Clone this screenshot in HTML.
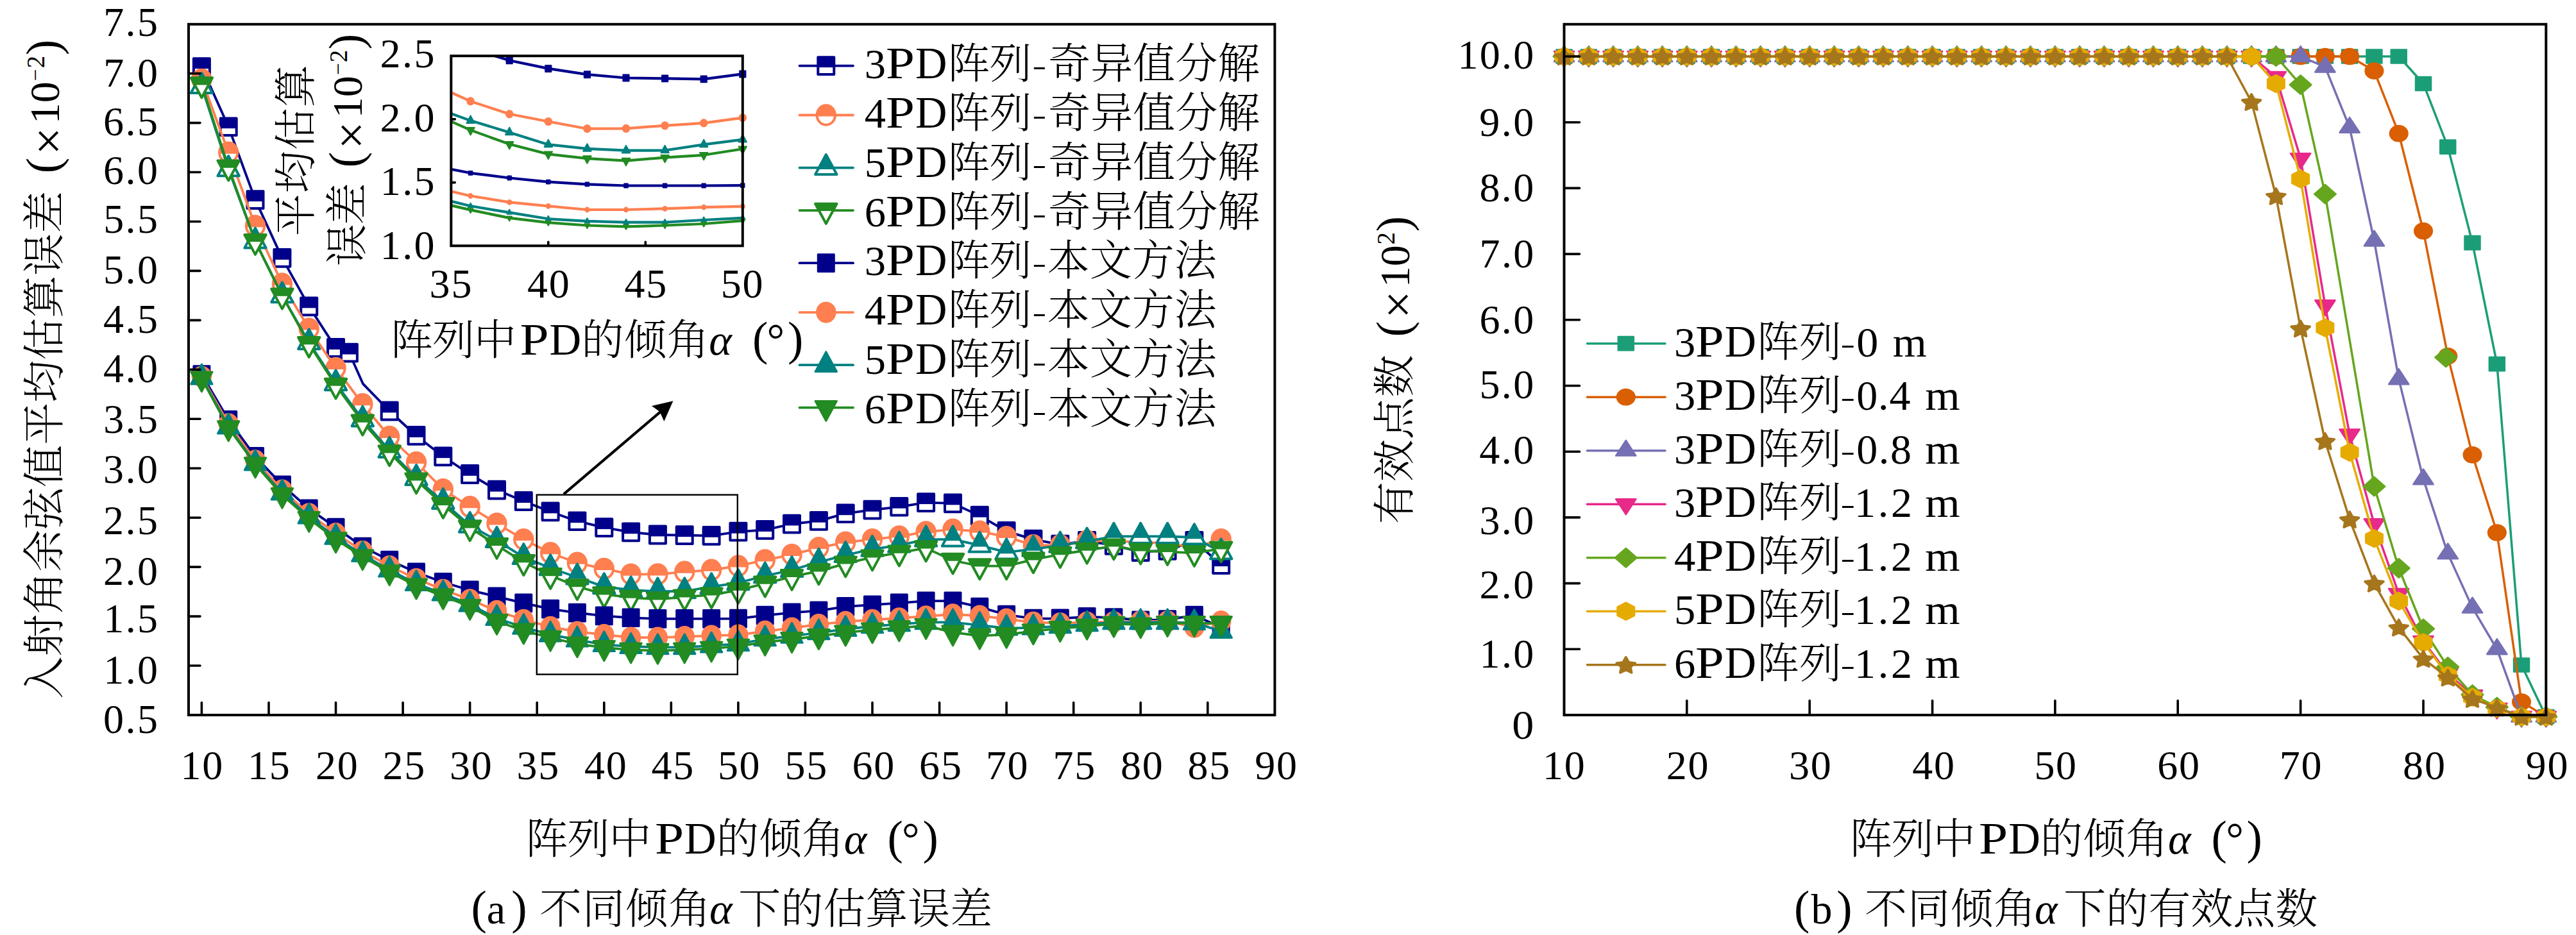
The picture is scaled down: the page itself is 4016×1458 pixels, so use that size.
<!DOCTYPE html>
<html lang="zh"><head><meta charset="utf-8"><title>figure</title>
<style>html,body{margin:0;padding:0;background:#fff}svg{display:block}text{font-family:"Liberation Serif", "Noto Serif CJK SC", serif;fill:#000;font-kerning:none;white-space:pre;font-weight:300}.it{font-style:italic}</style></head><body>
<svg width="4016" height="1458" viewBox="0 0 4016 1458">
<rect width="4016" height="1458" fill="#fff"/>
<g id="left">
<polyline points="314.4,104.6 356.2,197.8 398.0,311.6 439.9,402.4 481.7,477.9 523.5,542.5 544.4,550.2 566.0,598.7 607.2,641.0 649.0,679.5 690.8,711.8 732.6,739.5 774.5,764.1 816.3,781.5 858.1,798.0 899.9,812.7 941.8,822.6 983.6,829.8 1025.4,834.0 1067.2,834.6 1109.1,835.4 1150.9,829.2 1192.7,826.4 1234.5,817.0 1276.4,812.3 1318.2,800.7 1360.0,795.2 1401.8,790.3 1443.6,783.7 1485.5,784.9 1527.3,804.1 1569.1,828.4 1610.9,841.1 1652.8,849.1 1694.6,843.5 1736.4,850.3 1778.2,860.6 1820.1,858.4 1861.9,843.5 1903.7,880.6" fill="none" stroke="#00008B" stroke-width="3.8" stroke-linejoin="round" stroke-linecap="round"/>
<polygon points="301.9,91.3 326.9,91.3 326.9,118.0 301.9,118.0" fill="#fff" stroke="#00008B" stroke-width="4.0" stroke-linejoin="round"/><polygon points="301.9,91.3 326.9,91.3 326.9,107.1 301.9,107.1" fill="#00008B" /><polygon points="343.7,184.4 368.7,184.4 368.7,211.1 343.7,211.1" fill="#fff" stroke="#00008B" stroke-width="4.0" stroke-linejoin="round"/><polygon points="343.7,184.4 368.7,184.4 368.7,200.2 343.7,200.2" fill="#00008B" /><polygon points="385.5,298.3 410.5,298.3 410.5,325.0 385.5,325.0" fill="#fff" stroke="#00008B" stroke-width="4.0" stroke-linejoin="round"/><polygon points="385.5,298.3 410.5,298.3 410.5,314.1 385.5,314.1" fill="#00008B" /><polygon points="427.4,389.1 452.4,389.1 452.4,415.8 427.4,415.8" fill="#fff" stroke="#00008B" stroke-width="4.0" stroke-linejoin="round"/><polygon points="427.4,389.1 452.4,389.1 452.4,404.9 427.4,404.9" fill="#00008B" /><polygon points="469.2,464.5 494.2,464.5 494.2,491.2 469.2,491.2" fill="#fff" stroke="#00008B" stroke-width="4.0" stroke-linejoin="round"/><polygon points="469.2,464.5 494.2,464.5 494.2,480.3 469.2,480.3" fill="#00008B" /><polygon points="511.0,529.1 536.0,529.1 536.0,555.9 511.0,555.9" fill="#fff" stroke="#00008B" stroke-width="4.0" stroke-linejoin="round"/><polygon points="511.0,529.1 536.0,529.1 536.0,545.0 511.0,545.0" fill="#00008B" /><polygon points="531.9,536.8 556.9,536.8 556.9,563.6 531.9,563.6" fill="#fff" stroke="#00008B" stroke-width="4.0" stroke-linejoin="round"/><polygon points="531.9,536.8 556.9,536.8 556.9,552.6 531.9,552.6" fill="#00008B" /><polygon points="594.7,627.6 619.7,627.6 619.7,654.4 594.7,654.4" fill="#fff" stroke="#00008B" stroke-width="4.0" stroke-linejoin="round"/><polygon points="594.7,627.6 619.7,627.6 619.7,643.4 594.7,643.4" fill="#00008B" /><polygon points="636.5,666.1 661.5,666.1 661.5,692.8 636.5,692.8" fill="#fff" stroke="#00008B" stroke-width="4.0" stroke-linejoin="round"/><polygon points="636.5,666.1 661.5,666.1 661.5,681.9 636.5,681.9" fill="#00008B" /><polygon points="678.3,698.4 703.3,698.4 703.3,725.2 678.3,725.2" fill="#fff" stroke="#00008B" stroke-width="4.0" stroke-linejoin="round"/><polygon points="678.3,698.4 703.3,698.4 703.3,714.2 678.3,714.2" fill="#00008B" /><polygon points="720.1,726.1 745.1,726.1 745.1,752.9 720.1,752.9" fill="#fff" stroke="#00008B" stroke-width="4.0" stroke-linejoin="round"/><polygon points="720.1,726.1 745.1,726.1 745.1,741.9 720.1,741.9" fill="#00008B" /><polygon points="762.0,750.7 787.0,750.7 787.0,777.5 762.0,777.5" fill="#fff" stroke="#00008B" stroke-width="4.0" stroke-linejoin="round"/><polygon points="762.0,750.7 787.0,750.7 787.0,766.6 762.0,766.6" fill="#00008B" /><polygon points="803.8,768.1 828.8,768.1 828.8,794.9 803.8,794.9" fill="#fff" stroke="#00008B" stroke-width="4.0" stroke-linejoin="round"/><polygon points="803.8,768.1 828.8,768.1 828.8,784.0 803.8,784.0" fill="#00008B" /><polygon points="845.6,784.6 870.6,784.6 870.6,811.3 845.6,811.3" fill="#fff" stroke="#00008B" stroke-width="4.0" stroke-linejoin="round"/><polygon points="845.6,784.6 870.6,784.6 870.6,800.4 845.6,800.4" fill="#00008B" /><polygon points="887.4,799.4 912.4,799.4 912.4,826.1 887.4,826.1" fill="#fff" stroke="#00008B" stroke-width="4.0" stroke-linejoin="round"/><polygon points="887.4,799.4 912.4,799.4 912.4,815.2 887.4,815.2" fill="#00008B" /><polygon points="929.3,809.2 954.3,809.2 954.3,836.0 929.3,836.0" fill="#fff" stroke="#00008B" stroke-width="4.0" stroke-linejoin="round"/><polygon points="929.3,809.2 954.3,809.2 954.3,825.1 929.3,825.1" fill="#00008B" /><polygon points="971.1,816.4 996.1,816.4 996.1,843.2 971.1,843.2" fill="#fff" stroke="#00008B" stroke-width="4.0" stroke-linejoin="round"/><polygon points="971.1,816.4 996.1,816.4 996.1,832.3 971.1,832.3" fill="#00008B" /><polygon points="1012.9,820.6 1037.9,820.6 1037.9,847.4 1012.9,847.4" fill="#fff" stroke="#00008B" stroke-width="4.0" stroke-linejoin="round"/><polygon points="1012.9,820.6 1037.9,820.6 1037.9,836.4 1012.9,836.4" fill="#00008B" /><polygon points="1054.7,821.2 1079.7,821.2 1079.7,848.0 1054.7,848.0" fill="#fff" stroke="#00008B" stroke-width="4.0" stroke-linejoin="round"/><polygon points="1054.7,821.2 1079.7,821.2 1079.7,837.1 1054.7,837.1" fill="#00008B" /><polygon points="1096.6,822.0 1121.6,822.0 1121.6,848.7 1096.6,848.7" fill="#fff" stroke="#00008B" stroke-width="4.0" stroke-linejoin="round"/><polygon points="1096.6,822.0 1121.6,822.0 1121.6,837.8 1096.6,837.8" fill="#00008B" /><polygon points="1138.4,815.8 1163.4,815.8 1163.4,842.6 1138.4,842.6" fill="#fff" stroke="#00008B" stroke-width="4.0" stroke-linejoin="round"/><polygon points="1138.4,815.8 1163.4,815.8 1163.4,831.7 1138.4,831.7" fill="#00008B" /><polygon points="1180.2,813.1 1205.2,813.1 1205.2,839.8 1180.2,839.8" fill="#fff" stroke="#00008B" stroke-width="4.0" stroke-linejoin="round"/><polygon points="1180.2,813.1 1205.2,813.1 1205.2,828.9 1180.2,828.9" fill="#00008B" /><polygon points="1222.0,803.7 1247.0,803.7 1247.0,830.4 1222.0,830.4" fill="#fff" stroke="#00008B" stroke-width="4.0" stroke-linejoin="round"/><polygon points="1222.0,803.7 1247.0,803.7 1247.0,819.5 1222.0,819.5" fill="#00008B" /><polygon points="1263.9,798.9 1288.9,798.9 1288.9,825.7 1263.9,825.7" fill="#fff" stroke="#00008B" stroke-width="4.0" stroke-linejoin="round"/><polygon points="1263.9,798.9 1288.9,798.9 1288.9,814.7 1263.9,814.7" fill="#00008B" /><polygon points="1305.7,787.4 1330.7,787.4 1330.7,814.1 1305.7,814.1" fill="#fff" stroke="#00008B" stroke-width="4.0" stroke-linejoin="round"/><polygon points="1305.7,787.4 1330.7,787.4 1330.7,803.2 1305.7,803.2" fill="#00008B" /><polygon points="1347.5,781.8 1372.5,781.8 1372.5,808.6 1347.5,808.6" fill="#fff" stroke="#00008B" stroke-width="4.0" stroke-linejoin="round"/><polygon points="1347.5,781.8 1372.5,781.8 1372.5,797.7 1347.5,797.7" fill="#00008B" /><polygon points="1389.3,776.9 1414.3,776.9 1414.3,803.6 1389.3,803.6" fill="#fff" stroke="#00008B" stroke-width="4.0" stroke-linejoin="round"/><polygon points="1389.3,776.9 1414.3,776.9 1414.3,792.7 1389.3,792.7" fill="#00008B" /><polygon points="1431.1,770.3 1456.1,770.3 1456.1,797.0 1431.1,797.0" fill="#fff" stroke="#00008B" stroke-width="4.0" stroke-linejoin="round"/><polygon points="1431.1,770.3 1456.1,770.3 1456.1,786.1 1431.1,786.1" fill="#00008B" /><polygon points="1473.0,771.5 1498.0,771.5 1498.0,798.3 1473.0,798.3" fill="#fff" stroke="#00008B" stroke-width="4.0" stroke-linejoin="round"/><polygon points="1473.0,771.5 1498.0,771.5 1498.0,787.3 1473.0,787.3" fill="#00008B" /><polygon points="1514.8,790.7 1539.8,790.7 1539.8,817.5 1514.8,817.5" fill="#fff" stroke="#00008B" stroke-width="4.0" stroke-linejoin="round"/><polygon points="1514.8,790.7 1539.8,790.7 1539.8,806.6 1514.8,806.6" fill="#00008B" /><polygon points="1556.6,815.1 1581.6,815.1 1581.6,841.8 1556.6,841.8" fill="#fff" stroke="#00008B" stroke-width="4.0" stroke-linejoin="round"/><polygon points="1556.6,815.1 1581.6,815.1 1581.6,830.9 1556.6,830.9" fill="#00008B" /><polygon points="1598.4,827.7 1623.4,827.7 1623.4,854.4 1598.4,854.4" fill="#fff" stroke="#00008B" stroke-width="4.0" stroke-linejoin="round"/><polygon points="1598.4,827.7 1623.4,827.7 1623.4,843.5 1598.4,843.5" fill="#00008B" /><polygon points="1640.3,835.7 1665.3,835.7 1665.3,862.4 1640.3,862.4" fill="#fff" stroke="#00008B" stroke-width="4.0" stroke-linejoin="round"/><polygon points="1640.3,835.7 1665.3,835.7 1665.3,851.5 1640.3,851.5" fill="#00008B" /><polygon points="1682.1,830.1 1707.1,830.1 1707.1,856.9 1682.1,856.9" fill="#fff" stroke="#00008B" stroke-width="4.0" stroke-linejoin="round"/><polygon points="1682.1,830.1 1707.1,830.1 1707.1,846.0 1682.1,846.0" fill="#00008B" /><polygon points="1723.9,836.9 1748.9,836.9 1748.9,863.7 1723.9,863.7" fill="#fff" stroke="#00008B" stroke-width="4.0" stroke-linejoin="round"/><polygon points="1723.9,836.9 1748.9,836.9 1748.9,852.8 1723.9,852.8" fill="#00008B" /><polygon points="1765.7,847.2 1790.7,847.2 1790.7,874.0 1765.7,874.0" fill="#fff" stroke="#00008B" stroke-width="4.0" stroke-linejoin="round"/><polygon points="1765.7,847.2 1790.7,847.2 1790.7,863.1 1765.7,863.1" fill="#00008B" /><polygon points="1807.6,845.1 1832.6,845.1 1832.6,871.8 1807.6,871.8" fill="#fff" stroke="#00008B" stroke-width="4.0" stroke-linejoin="round"/><polygon points="1807.6,845.1 1832.6,845.1 1832.6,860.9 1807.6,860.9" fill="#00008B" /><polygon points="1849.4,830.1 1874.4,830.1 1874.4,856.9 1849.4,856.9" fill="#fff" stroke="#00008B" stroke-width="4.0" stroke-linejoin="round"/><polygon points="1849.4,830.1 1874.4,830.1 1874.4,846.0 1849.4,846.0" fill="#00008B" /><polygon points="1891.2,867.2 1916.2,867.2 1916.2,894.0 1891.2,894.0" fill="#fff" stroke="#00008B" stroke-width="4.0" stroke-linejoin="round"/><polygon points="1891.2,867.2 1916.2,867.2 1916.2,883.1 1891.2,883.1" fill="#00008B" />
<polyline points="314.4,123.9 356.2,237.8 398.0,352.3 439.9,442.5 481.7,512.6 523.5,574.0 565.3,630.2 607.2,681.0 649.0,721.0 690.8,763.2 732.6,790.3 774.5,816.4 816.3,841.1 858.1,862.3 899.9,877.8 941.8,886.9 983.6,895.7 1025.4,895.4 1067.2,891.8 1109.1,888.8 1150.9,882.5 1192.7,873.4 1234.5,864.9 1276.4,854.1 1318.2,845.7 1360.0,841.1 1401.8,836.4 1443.6,829.4 1485.5,825.7 1527.3,828.7 1569.1,837.1 1610.9,850.3 1652.8,850.3 1694.6,843.5 1736.4,843.5 1778.2,845.7 1820.1,847.2 1861.9,854.1 1903.7,841.1" fill="none" stroke="#FF7F50" stroke-width="3.8" stroke-linejoin="round" stroke-linecap="round"/>
<ellipse cx="314.4" cy="123.9" rx="14.2" ry="15.2" fill="#fff" stroke="#FF7F50" stroke-width="4.0"/><path d="M300.3 125.9A14.2 15.2 0 1 1 328.5 125.9Z" fill="#FF7F50"/><ellipse cx="356.2" cy="237.8" rx="14.2" ry="15.2" fill="#fff" stroke="#FF7F50" stroke-width="4.0"/><path d="M342.1 239.8A14.2 15.2 0 1 1 370.4 239.8Z" fill="#FF7F50"/><ellipse cx="398.0" cy="352.3" rx="14.2" ry="15.2" fill="#fff" stroke="#FF7F50" stroke-width="4.0"/><path d="M383.9 354.3A14.2 15.2 0 1 1 412.2 354.3Z" fill="#FF7F50"/><ellipse cx="439.9" cy="442.5" rx="14.2" ry="15.2" fill="#fff" stroke="#FF7F50" stroke-width="4.0"/><path d="M425.7 444.5A14.2 15.2 0 1 1 454.0 444.5Z" fill="#FF7F50"/><ellipse cx="481.7" cy="512.6" rx="14.2" ry="15.2" fill="#fff" stroke="#FF7F50" stroke-width="4.0"/><path d="M467.6 514.6A14.2 15.2 0 1 1 495.8 514.6Z" fill="#FF7F50"/><ellipse cx="523.5" cy="574.0" rx="14.2" ry="15.2" fill="#fff" stroke="#FF7F50" stroke-width="4.0"/><path d="M509.4 576.0A14.2 15.2 0 1 1 537.6 576.0Z" fill="#FF7F50"/><ellipse cx="565.3" cy="630.2" rx="14.2" ry="15.2" fill="#fff" stroke="#FF7F50" stroke-width="4.0"/><path d="M551.2 632.2A14.2 15.2 0 1 1 579.5 632.2Z" fill="#FF7F50"/><ellipse cx="607.2" cy="681.0" rx="14.2" ry="15.2" fill="#fff" stroke="#FF7F50" stroke-width="4.0"/><path d="M593.0 683.0A14.2 15.2 0 1 1 621.3 683.0Z" fill="#FF7F50"/><ellipse cx="649.0" cy="721.0" rx="14.2" ry="15.2" fill="#fff" stroke="#FF7F50" stroke-width="4.0"/><path d="M634.9 723.0A14.2 15.2 0 1 1 663.1 723.0Z" fill="#FF7F50"/><ellipse cx="690.8" cy="763.2" rx="14.2" ry="15.2" fill="#fff" stroke="#FF7F50" stroke-width="4.0"/><path d="M676.7 765.2A14.2 15.2 0 1 1 704.9 765.2Z" fill="#FF7F50"/><ellipse cx="732.6" cy="790.3" rx="14.2" ry="15.2" fill="#fff" stroke="#FF7F50" stroke-width="4.0"/><path d="M718.5 792.3A14.2 15.2 0 1 1 746.8 792.3Z" fill="#FF7F50"/><ellipse cx="774.5" cy="816.4" rx="14.2" ry="15.2" fill="#fff" stroke="#FF7F50" stroke-width="4.0"/><path d="M760.3 818.4A14.2 15.2 0 1 1 788.6 818.4Z" fill="#FF7F50"/><ellipse cx="816.3" cy="841.1" rx="14.2" ry="15.2" fill="#fff" stroke="#FF7F50" stroke-width="4.0"/><path d="M802.2 843.1A14.2 15.2 0 1 1 830.4 843.1Z" fill="#FF7F50"/><ellipse cx="858.1" cy="862.3" rx="14.2" ry="15.2" fill="#fff" stroke="#FF7F50" stroke-width="4.0"/><path d="M844.0 864.3A14.2 15.2 0 1 1 872.2 864.3Z" fill="#FF7F50"/><ellipse cx="899.9" cy="877.8" rx="14.2" ry="15.2" fill="#fff" stroke="#FF7F50" stroke-width="4.0"/><path d="M885.8 879.8A14.2 15.2 0 1 1 914.1 879.8Z" fill="#FF7F50"/><ellipse cx="941.8" cy="886.9" rx="14.2" ry="15.2" fill="#fff" stroke="#FF7F50" stroke-width="4.0"/><path d="M927.6 888.9A14.2 15.2 0 1 1 955.9 888.9Z" fill="#FF7F50"/><ellipse cx="983.6" cy="895.7" rx="14.2" ry="15.2" fill="#fff" stroke="#FF7F50" stroke-width="4.0"/><path d="M969.5 897.7A14.2 15.2 0 1 1 997.7 897.7Z" fill="#FF7F50"/><ellipse cx="1025.4" cy="895.4" rx="14.2" ry="15.2" fill="#fff" stroke="#FF7F50" stroke-width="4.0"/><path d="M1011.3 897.4A14.2 15.2 0 1 1 1039.5 897.4Z" fill="#FF7F50"/><ellipse cx="1067.2" cy="891.8" rx="14.2" ry="15.2" fill="#fff" stroke="#FF7F50" stroke-width="4.0"/><path d="M1053.1 893.8A14.2 15.2 0 1 1 1081.4 893.8Z" fill="#FF7F50"/><ellipse cx="1109.1" cy="888.8" rx="14.2" ry="15.2" fill="#fff" stroke="#FF7F50" stroke-width="4.0"/><path d="M1094.9 890.8A14.2 15.2 0 1 1 1123.2 890.8Z" fill="#FF7F50"/><ellipse cx="1150.9" cy="882.5" rx="14.2" ry="15.2" fill="#fff" stroke="#FF7F50" stroke-width="4.0"/><path d="M1136.8 884.5A14.2 15.2 0 1 1 1165.0 884.5Z" fill="#FF7F50"/><ellipse cx="1192.7" cy="873.4" rx="14.2" ry="15.2" fill="#fff" stroke="#FF7F50" stroke-width="4.0"/><path d="M1178.6 875.4A14.2 15.2 0 1 1 1206.8 875.4Z" fill="#FF7F50"/><ellipse cx="1234.5" cy="864.9" rx="14.2" ry="15.2" fill="#fff" stroke="#FF7F50" stroke-width="4.0"/><path d="M1220.4 866.9A14.2 15.2 0 1 1 1248.7 866.9Z" fill="#FF7F50"/><ellipse cx="1276.4" cy="854.1" rx="14.2" ry="15.2" fill="#fff" stroke="#FF7F50" stroke-width="4.0"/><path d="M1262.2 856.1A14.2 15.2 0 1 1 1290.5 856.1Z" fill="#FF7F50"/><ellipse cx="1318.2" cy="845.7" rx="14.2" ry="15.2" fill="#fff" stroke="#FF7F50" stroke-width="4.0"/><path d="M1304.0 847.7A14.2 15.2 0 1 1 1332.3 847.7Z" fill="#FF7F50"/><ellipse cx="1360.0" cy="841.1" rx="14.2" ry="15.2" fill="#fff" stroke="#FF7F50" stroke-width="4.0"/><path d="M1345.9 843.1A14.2 15.2 0 1 1 1374.1 843.1Z" fill="#FF7F50"/><ellipse cx="1401.8" cy="836.4" rx="14.2" ry="15.2" fill="#fff" stroke="#FF7F50" stroke-width="4.0"/><path d="M1387.7 838.4A14.2 15.2 0 1 1 1416.0 838.4Z" fill="#FF7F50"/><ellipse cx="1443.6" cy="829.4" rx="14.2" ry="15.2" fill="#fff" stroke="#FF7F50" stroke-width="4.0"/><path d="M1429.5 831.4A14.2 15.2 0 1 1 1457.8 831.4Z" fill="#FF7F50"/><ellipse cx="1485.5" cy="825.7" rx="14.2" ry="15.2" fill="#fff" stroke="#FF7F50" stroke-width="4.0"/><path d="M1471.3 827.7A14.2 15.2 0 1 1 1499.6 827.7Z" fill="#FF7F50"/><ellipse cx="1527.3" cy="828.7" rx="14.2" ry="15.2" fill="#fff" stroke="#FF7F50" stroke-width="4.0"/><path d="M1513.2 830.7A14.2 15.2 0 1 1 1541.4 830.7Z" fill="#FF7F50"/><ellipse cx="1569.1" cy="837.1" rx="14.2" ry="15.2" fill="#fff" stroke="#FF7F50" stroke-width="4.0"/><path d="M1555.0 839.1A14.2 15.2 0 1 1 1583.2 839.1Z" fill="#FF7F50"/><ellipse cx="1610.9" cy="850.3" rx="14.2" ry="15.2" fill="#fff" stroke="#FF7F50" stroke-width="4.0"/><path d="M1596.8 852.3A14.2 15.2 0 1 1 1625.1 852.3Z" fill="#FF7F50"/><ellipse cx="1652.8" cy="850.3" rx="14.2" ry="15.2" fill="#fff" stroke="#FF7F50" stroke-width="4.0"/><path d="M1638.6 852.3A14.2 15.2 0 1 1 1666.9 852.3Z" fill="#FF7F50"/><ellipse cx="1694.6" cy="843.5" rx="14.2" ry="15.2" fill="#fff" stroke="#FF7F50" stroke-width="4.0"/><path d="M1680.5 845.5A14.2 15.2 0 1 1 1708.7 845.5Z" fill="#FF7F50"/><ellipse cx="1736.4" cy="843.5" rx="14.2" ry="15.2" fill="#fff" stroke="#FF7F50" stroke-width="4.0"/><path d="M1722.3 845.5A14.2 15.2 0 1 1 1750.5 845.5Z" fill="#FF7F50"/><ellipse cx="1778.2" cy="845.7" rx="14.2" ry="15.2" fill="#fff" stroke="#FF7F50" stroke-width="4.0"/><path d="M1764.1 847.7A14.2 15.2 0 1 1 1792.4 847.7Z" fill="#FF7F50"/><ellipse cx="1820.1" cy="847.2" rx="14.2" ry="15.2" fill="#fff" stroke="#FF7F50" stroke-width="4.0"/><path d="M1805.9 849.2A14.2 15.2 0 1 1 1834.2 849.2Z" fill="#FF7F50"/><ellipse cx="1861.9" cy="854.1" rx="14.2" ry="15.2" fill="#fff" stroke="#FF7F50" stroke-width="4.0"/><path d="M1847.8 856.1A14.2 15.2 0 1 1 1876.0 856.1Z" fill="#FF7F50"/><ellipse cx="1903.7" cy="841.1" rx="14.2" ry="15.2" fill="#fff" stroke="#FF7F50" stroke-width="4.0"/><path d="M1889.6 843.1A14.2 15.2 0 1 1 1917.8 843.1Z" fill="#FF7F50"/>
<polyline points="314.4,134.7 356.2,263.9 398.0,376.3 439.9,460.9 481.7,534.0 523.5,597.9 565.3,654.2 607.2,702.5 649.0,745.6 690.8,782.6 732.6,819.5 774.5,842.6 816.3,868.8 858.1,885.8 899.9,900.2 941.8,914.9 983.6,920.0 1025.4,922.2 1067.2,922.0 1109.1,914.9 1150.9,908.9 1192.7,898.0 1234.5,888.8 1276.4,876.5 1318.2,865.7 1360.0,856.4 1401.8,850.3 1443.6,841.1 1485.5,841.1 1527.3,850.3 1569.1,861.1 1610.9,856.4 1652.8,850.3 1694.6,844.1 1736.4,836.4 1778.2,836.4 1820.1,836.4 1861.9,838.0 1903.7,861.1" fill="none" stroke="#008080" stroke-width="3.8" stroke-linejoin="round" stroke-linecap="round"/>
<polygon points="314.4,114.0 297.7,145.0 331.1,145.0" fill="#fff" stroke="#008080" stroke-width="4.0" stroke-linejoin="round"/><polygon points="314.4,114.0 302.0,136.9 326.8,136.9" fill="#008080" /><polygon points="356.2,243.3 339.5,274.2 372.9,274.2" fill="#fff" stroke="#008080" stroke-width="4.0" stroke-linejoin="round"/><polygon points="356.2,243.3 343.9,266.2 368.6,266.2" fill="#008080" /><polygon points="398.0,355.6 381.3,386.6 414.7,386.6" fill="#fff" stroke="#008080" stroke-width="4.0" stroke-linejoin="round"/><polygon points="398.0,355.6 385.7,378.5 410.4,378.5" fill="#008080" /><polygon points="439.9,440.3 423.2,471.2 456.6,471.2" fill="#fff" stroke="#008080" stroke-width="4.0" stroke-linejoin="round"/><polygon points="439.9,440.3 427.5,463.2 452.2,463.2" fill="#008080" /><polygon points="481.7,513.4 465.0,544.3 498.4,544.3" fill="#fff" stroke="#008080" stroke-width="4.0" stroke-linejoin="round"/><polygon points="481.7,513.4 469.3,536.3 494.1,536.3" fill="#008080" /><polygon points="523.5,577.3 506.8,608.2 540.2,608.2" fill="#fff" stroke="#008080" stroke-width="4.0" stroke-linejoin="round"/><polygon points="523.5,577.3 511.2,600.2 535.9,600.2" fill="#008080" /><polygon points="565.3,633.6 548.6,664.5 582.0,664.5" fill="#fff" stroke="#008080" stroke-width="4.0" stroke-linejoin="round"/><polygon points="565.3,633.6 553.0,656.5 577.7,656.5" fill="#008080" /><polygon points="607.2,681.9 590.5,712.9 623.9,712.9" fill="#fff" stroke="#008080" stroke-width="4.0" stroke-linejoin="round"/><polygon points="607.2,681.9 594.8,704.8 619.5,704.8" fill="#008080" /><polygon points="649.0,725.0 632.3,756.0 665.7,756.0" fill="#fff" stroke="#008080" stroke-width="4.0" stroke-linejoin="round"/><polygon points="649.0,725.0 636.6,747.9 661.3,747.9" fill="#008080" /><polygon points="690.8,761.9 674.1,792.9 707.5,792.9" fill="#fff" stroke="#008080" stroke-width="4.0" stroke-linejoin="round"/><polygon points="690.8,761.9 678.5,784.8 703.2,784.8" fill="#008080" /><polygon points="732.6,798.9 715.9,829.8 749.3,829.8" fill="#fff" stroke="#008080" stroke-width="4.0" stroke-linejoin="round"/><polygon points="732.6,798.9 720.3,821.8 745.0,821.8" fill="#008080" /><polygon points="774.5,822.0 757.8,852.9 791.2,852.9" fill="#fff" stroke="#008080" stroke-width="4.0" stroke-linejoin="round"/><polygon points="774.5,822.0 762.1,844.9 786.8,844.9" fill="#008080" /><polygon points="816.3,848.1 799.6,879.1 833.0,879.1" fill="#fff" stroke="#008080" stroke-width="4.0" stroke-linejoin="round"/><polygon points="816.3,848.1 803.9,871.0 828.6,871.0" fill="#008080" /><polygon points="858.1,865.2 841.4,896.2 874.8,896.2" fill="#fff" stroke="#008080" stroke-width="4.0" stroke-linejoin="round"/><polygon points="858.1,865.2 845.8,888.1 870.5,888.1" fill="#008080" /><polygon points="899.9,879.5 883.2,910.5 916.6,910.5" fill="#fff" stroke="#008080" stroke-width="4.0" stroke-linejoin="round"/><polygon points="899.9,879.5 887.6,902.4 912.3,902.4" fill="#008080" /><polygon points="941.8,894.3 925.1,925.2 958.5,925.2" fill="#fff" stroke="#008080" stroke-width="4.0" stroke-linejoin="round"/><polygon points="941.8,894.3 929.4,917.2 954.1,917.2" fill="#008080" /><polygon points="983.6,899.4 966.9,930.3 1000.3,930.3" fill="#fff" stroke="#008080" stroke-width="4.0" stroke-linejoin="round"/><polygon points="983.6,899.4 971.2,922.3 995.9,922.3" fill="#008080" /><polygon points="1025.4,901.5 1008.7,932.5 1042.1,932.5" fill="#fff" stroke="#008080" stroke-width="4.0" stroke-linejoin="round"/><polygon points="1025.4,901.5 1013.0,924.4 1037.8,924.4" fill="#008080" /><polygon points="1067.2,901.4 1050.5,932.3 1083.9,932.3" fill="#fff" stroke="#008080" stroke-width="4.0" stroke-linejoin="round"/><polygon points="1067.2,901.4 1054.9,924.3 1079.6,924.3" fill="#008080" /><polygon points="1109.1,894.3 1092.4,925.2 1125.8,925.2" fill="#fff" stroke="#008080" stroke-width="4.0" stroke-linejoin="round"/><polygon points="1109.1,894.3 1096.7,917.2 1121.4,917.2" fill="#008080" /><polygon points="1150.9,888.3 1134.2,919.2 1167.6,919.2" fill="#fff" stroke="#008080" stroke-width="4.0" stroke-linejoin="round"/><polygon points="1150.9,888.3 1138.5,911.2 1163.2,911.2" fill="#008080" /><polygon points="1192.7,877.4 1176.0,908.3 1209.4,908.3" fill="#fff" stroke="#008080" stroke-width="4.0" stroke-linejoin="round"/><polygon points="1192.7,877.4 1180.3,900.3 1205.1,900.3" fill="#008080" /><polygon points="1234.5,868.1 1217.8,899.1 1251.2,899.1" fill="#fff" stroke="#008080" stroke-width="4.0" stroke-linejoin="round"/><polygon points="1234.5,868.1 1222.2,891.0 1246.9,891.0" fill="#008080" /><polygon points="1276.4,855.8 1259.7,886.8 1293.1,886.8" fill="#fff" stroke="#008080" stroke-width="4.0" stroke-linejoin="round"/><polygon points="1276.4,855.8 1264.0,878.7 1288.7,878.7" fill="#008080" /><polygon points="1318.2,845.0 1301.5,876.0 1334.9,876.0" fill="#fff" stroke="#008080" stroke-width="4.0" stroke-linejoin="round"/><polygon points="1318.2,845.0 1305.8,868.0 1330.5,868.0" fill="#008080" /><polygon points="1360.0,835.8 1343.3,866.8 1376.7,866.8" fill="#fff" stroke="#008080" stroke-width="4.0" stroke-linejoin="round"/><polygon points="1360.0,835.8 1347.6,858.7 1372.4,858.7" fill="#008080" /><polygon points="1401.8,829.7 1385.1,860.6 1418.5,860.6" fill="#fff" stroke="#008080" stroke-width="4.0" stroke-linejoin="round"/><polygon points="1401.8,829.7 1389.5,852.6 1414.2,852.6" fill="#008080" /><polygon points="1443.6,820.4 1426.9,851.4 1460.3,851.4" fill="#fff" stroke="#008080" stroke-width="4.0" stroke-linejoin="round"/><polygon points="1443.6,820.4 1431.3,843.3 1456.0,843.3" fill="#008080" /><polygon points="1485.5,820.4 1468.8,851.4 1502.2,851.4" fill="#fff" stroke="#008080" stroke-width="4.0" stroke-linejoin="round"/><polygon points="1485.5,820.4 1473.1,843.3 1497.8,843.3" fill="#008080" /><polygon points="1527.3,829.7 1510.6,860.6 1544.0,860.6" fill="#fff" stroke="#008080" stroke-width="4.0" stroke-linejoin="round"/><polygon points="1527.3,829.7 1514.9,852.6 1539.7,852.6" fill="#008080" /><polygon points="1569.1,840.4 1552.4,871.4 1585.8,871.4" fill="#fff" stroke="#008080" stroke-width="4.0" stroke-linejoin="round"/><polygon points="1569.1,840.4 1556.8,863.3 1581.5,863.3" fill="#008080" /><polygon points="1610.9,835.8 1594.2,866.8 1627.6,866.8" fill="#fff" stroke="#008080" stroke-width="4.0" stroke-linejoin="round"/><polygon points="1610.9,835.8 1598.6,858.7 1623.3,858.7" fill="#008080" /><polygon points="1652.8,829.7 1636.1,860.6 1669.5,860.6" fill="#fff" stroke="#008080" stroke-width="4.0" stroke-linejoin="round"/><polygon points="1652.8,829.7 1640.4,852.6 1665.1,852.6" fill="#008080" /><polygon points="1694.6,823.5 1677.9,854.5 1711.3,854.5" fill="#fff" stroke="#008080" stroke-width="4.0" stroke-linejoin="round"/><polygon points="1694.6,823.5 1682.2,846.4 1707.0,846.4" fill="#008080" /><polygon points="1736.4,815.8 1719.7,846.8 1753.1,846.8" fill="#fff" stroke="#008080" stroke-width="4.0" stroke-linejoin="round"/><polygon points="1736.4,815.8 1724.1,838.7 1748.8,838.7" fill="#008080" /><polygon points="1778.2,815.8 1761.5,846.8 1794.9,846.8" fill="#fff" stroke="#008080" stroke-width="4.0" stroke-linejoin="round"/><polygon points="1778.2,815.8 1765.9,838.7 1790.6,838.7" fill="#008080" /><polygon points="1820.1,815.8 1803.4,846.8 1836.8,846.8" fill="#fff" stroke="#008080" stroke-width="4.0" stroke-linejoin="round"/><polygon points="1820.1,815.8 1807.7,838.7 1832.4,838.7" fill="#008080" /><polygon points="1861.9,817.3 1845.2,848.3 1878.6,848.3" fill="#fff" stroke="#008080" stroke-width="4.0" stroke-linejoin="round"/><polygon points="1861.9,817.3 1849.5,840.2 1874.2,840.2" fill="#008080" /><polygon points="1903.7,840.4 1887.0,871.4 1920.4,871.4" fill="#fff" stroke="#008080" stroke-width="4.0" stroke-linejoin="round"/><polygon points="1903.7,840.4 1891.4,863.3 1916.1,863.3" fill="#008080" />
<polyline points="314.4,131.6 356.2,260.9 398.0,376.3 439.9,460.9 481.7,536.3 523.5,601.0 565.3,657.9 607.2,705.6 649.0,748.7 690.8,787.2 732.6,822.6 774.5,850.3 816.3,876.5 858.1,897.4 899.9,914.5 941.8,926.6 983.6,931.9 1025.4,934.6 1067.2,930.8 1109.1,927.7 1150.9,920.3 1192.7,909.9 1234.5,899.2 1276.4,890.6 1318.2,878.8 1360.0,868.8 1401.8,861.8 1443.6,854.6 1485.5,874.0 1527.3,882.6 1569.1,882.6 1610.9,872.6 1652.8,864.5 1694.6,858.0 1736.4,851.7 1778.2,858.8 1820.1,860.3 1861.9,862.3 1903.7,855.7" fill="none" stroke="#228B22" stroke-width="3.8" stroke-linejoin="round" stroke-linecap="round"/>
<polygon points="314.4,152.2 297.7,121.3 331.1,121.3" fill="#fff" stroke="#228B22" stroke-width="4.0" stroke-linejoin="round"/><polygon points="297.7,121.3 331.1,121.3 325.1,132.4 303.7,132.4" fill="#228B22" /><polygon points="356.2,281.5 339.5,250.5 372.9,250.5" fill="#fff" stroke="#228B22" stroke-width="4.0" stroke-linejoin="round"/><polygon points="339.5,250.5 372.9,250.5 366.9,261.7 345.5,261.7" fill="#228B22" /><polygon points="398.0,396.9 381.3,366.0 414.7,366.0" fill="#fff" stroke="#228B22" stroke-width="4.0" stroke-linejoin="round"/><polygon points="381.3,366.0 414.7,366.0 408.7,377.1 387.4,377.1" fill="#228B22" /><polygon points="439.9,481.6 423.2,450.6 456.6,450.6" fill="#fff" stroke="#228B22" stroke-width="4.0" stroke-linejoin="round"/><polygon points="423.2,450.6 456.6,450.6 450.6,461.8 429.2,461.8" fill="#228B22" /><polygon points="481.7,557.0 465.0,526.0 498.4,526.0" fill="#fff" stroke="#228B22" stroke-width="4.0" stroke-linejoin="round"/><polygon points="465.0,526.0 498.4,526.0 492.4,537.2 471.0,537.2" fill="#228B22" /><polygon points="523.5,621.6 506.8,590.7 540.2,590.7" fill="#fff" stroke="#228B22" stroke-width="4.0" stroke-linejoin="round"/><polygon points="506.8,590.7 540.2,590.7 534.2,601.8 512.8,601.8" fill="#228B22" /><polygon points="565.3,678.5 548.6,647.6 582.0,647.6" fill="#fff" stroke="#228B22" stroke-width="4.0" stroke-linejoin="round"/><polygon points="548.6,647.6 582.0,647.6 576.0,658.7 554.7,658.7" fill="#228B22" /><polygon points="607.2,726.3 590.5,695.3 623.9,695.3" fill="#fff" stroke="#228B22" stroke-width="4.0" stroke-linejoin="round"/><polygon points="590.5,695.3 623.9,695.3 617.9,706.5 596.5,706.5" fill="#228B22" /><polygon points="649.0,769.4 632.3,738.4 665.7,738.4" fill="#fff" stroke="#228B22" stroke-width="4.0" stroke-linejoin="round"/><polygon points="632.3,738.4 665.7,738.4 659.7,749.5 638.3,749.5" fill="#228B22" /><polygon points="690.8,807.8 674.1,776.9 707.5,776.9" fill="#fff" stroke="#228B22" stroke-width="4.0" stroke-linejoin="round"/><polygon points="674.1,776.9 707.5,776.9 701.5,788.0 680.1,788.0" fill="#228B22" /><polygon points="732.6,843.2 715.9,812.3 749.3,812.3" fill="#fff" stroke="#228B22" stroke-width="4.0" stroke-linejoin="round"/><polygon points="715.9,812.3 749.3,812.3 743.3,823.4 722.0,823.4" fill="#228B22" /><polygon points="774.5,870.9 757.8,840.0 791.2,840.0" fill="#fff" stroke="#228B22" stroke-width="4.0" stroke-linejoin="round"/><polygon points="757.8,840.0 791.2,840.0 785.2,851.1 763.8,851.1" fill="#228B22" /><polygon points="816.3,897.1 799.6,866.1 833.0,866.1" fill="#fff" stroke="#228B22" stroke-width="4.0" stroke-linejoin="round"/><polygon points="799.6,866.1 833.0,866.1 827.0,877.3 805.6,877.3" fill="#228B22" /><polygon points="858.1,918.0 841.4,887.1 874.8,887.1" fill="#fff" stroke="#228B22" stroke-width="4.0" stroke-linejoin="round"/><polygon points="841.4,887.1 874.8,887.1 868.8,898.2 847.4,898.2" fill="#228B22" /><polygon points="899.9,935.1 883.2,904.2 916.6,904.2" fill="#fff" stroke="#228B22" stroke-width="4.0" stroke-linejoin="round"/><polygon points="883.2,904.2 916.6,904.2 910.6,915.3 889.2,915.3" fill="#228B22" /><polygon points="941.8,947.3 925.1,916.3 958.5,916.3" fill="#fff" stroke="#228B22" stroke-width="4.0" stroke-linejoin="round"/><polygon points="925.1,916.3 958.5,916.3 952.4,927.5 931.1,927.5" fill="#228B22" /><polygon points="983.6,952.5 966.9,921.5 1000.3,921.5" fill="#fff" stroke="#228B22" stroke-width="4.0" stroke-linejoin="round"/><polygon points="966.9,921.5 1000.3,921.5 994.3,932.7 972.9,932.7" fill="#228B22" /><polygon points="1025.4,955.3 1008.7,924.3 1042.1,924.3" fill="#fff" stroke="#228B22" stroke-width="4.0" stroke-linejoin="round"/><polygon points="1008.7,924.3 1042.1,924.3 1036.1,935.5 1014.7,935.5" fill="#228B22" /><polygon points="1067.2,951.4 1050.5,920.5 1083.9,920.5" fill="#fff" stroke="#228B22" stroke-width="4.0" stroke-linejoin="round"/><polygon points="1050.5,920.5 1083.9,920.5 1077.9,931.6 1056.5,931.6" fill="#228B22" /><polygon points="1109.1,948.3 1092.4,917.4 1125.8,917.4" fill="#fff" stroke="#228B22" stroke-width="4.0" stroke-linejoin="round"/><polygon points="1092.4,917.4 1125.8,917.4 1119.7,928.5 1098.4,928.5" fill="#228B22" /><polygon points="1150.9,940.9 1134.2,910.0 1167.6,910.0" fill="#fff" stroke="#228B22" stroke-width="4.0" stroke-linejoin="round"/><polygon points="1134.2,910.0 1167.6,910.0 1161.6,921.1 1140.2,921.1" fill="#228B22" /><polygon points="1192.7,930.5 1176.0,899.5 1209.4,899.5" fill="#fff" stroke="#228B22" stroke-width="4.0" stroke-linejoin="round"/><polygon points="1176.0,899.5 1209.4,899.5 1203.4,910.7 1182.0,910.7" fill="#228B22" /><polygon points="1234.5,919.9 1217.8,888.9 1251.2,888.9" fill="#fff" stroke="#228B22" stroke-width="4.0" stroke-linejoin="round"/><polygon points="1217.8,888.9 1251.2,888.9 1245.2,900.1 1223.8,900.1" fill="#228B22" /><polygon points="1276.4,911.2 1259.7,880.3 1293.1,880.3" fill="#fff" stroke="#228B22" stroke-width="4.0" stroke-linejoin="round"/><polygon points="1259.7,880.3 1293.1,880.3 1287.0,891.4 1265.7,891.4" fill="#228B22" /><polygon points="1318.2,899.4 1301.5,868.4 1334.9,868.4" fill="#fff" stroke="#228B22" stroke-width="4.0" stroke-linejoin="round"/><polygon points="1301.5,868.4 1334.9,868.4 1328.9,879.6 1307.5,879.6" fill="#228B22" /><polygon points="1360.0,889.4 1343.3,858.4 1376.7,858.4" fill="#fff" stroke="#228B22" stroke-width="4.0" stroke-linejoin="round"/><polygon points="1343.3,858.4 1376.7,858.4 1370.7,869.6 1349.3,869.6" fill="#228B22" /><polygon points="1401.8,882.5 1385.1,851.5 1418.5,851.5" fill="#fff" stroke="#228B22" stroke-width="4.0" stroke-linejoin="round"/><polygon points="1385.1,851.5 1418.5,851.5 1412.5,862.7 1391.1,862.7" fill="#228B22" /><polygon points="1443.6,875.2 1426.9,844.3 1460.3,844.3" fill="#fff" stroke="#228B22" stroke-width="4.0" stroke-linejoin="round"/><polygon points="1426.9,844.3 1460.3,844.3 1454.3,855.4 1433.0,855.4" fill="#228B22" /><polygon points="1485.5,894.6 1468.8,863.7 1502.2,863.7" fill="#fff" stroke="#228B22" stroke-width="4.0" stroke-linejoin="round"/><polygon points="1468.8,863.7 1502.2,863.7 1496.2,874.8 1474.8,874.8" fill="#228B22" /><polygon points="1527.3,903.2 1510.6,872.3 1544.0,872.3" fill="#fff" stroke="#228B22" stroke-width="4.0" stroke-linejoin="round"/><polygon points="1510.6,872.3 1544.0,872.3 1538.0,883.4 1516.6,883.4" fill="#228B22" /><polygon points="1569.1,903.2 1552.4,872.3 1585.8,872.3" fill="#fff" stroke="#228B22" stroke-width="4.0" stroke-linejoin="round"/><polygon points="1552.4,872.3 1585.8,872.3 1579.8,883.4 1558.4,883.4" fill="#228B22" /><polygon points="1610.9,893.2 1594.2,862.3 1627.6,862.3" fill="#fff" stroke="#228B22" stroke-width="4.0" stroke-linejoin="round"/><polygon points="1594.2,862.3 1627.6,862.3 1621.6,873.4 1600.3,873.4" fill="#228B22" /><polygon points="1652.8,885.1 1636.1,854.1 1669.5,854.1" fill="#fff" stroke="#228B22" stroke-width="4.0" stroke-linejoin="round"/><polygon points="1636.1,854.1 1669.5,854.1 1663.5,865.3 1642.1,865.3" fill="#228B22" /><polygon points="1694.6,878.6 1677.9,847.7 1711.3,847.7" fill="#fff" stroke="#228B22" stroke-width="4.0" stroke-linejoin="round"/><polygon points="1677.9,847.7 1711.3,847.7 1705.3,858.8 1683.9,858.8" fill="#228B22" /><polygon points="1736.4,872.3 1719.7,841.4 1753.1,841.4" fill="#fff" stroke="#228B22" stroke-width="4.0" stroke-linejoin="round"/><polygon points="1719.7,841.4 1753.1,841.4 1747.1,852.5 1725.7,852.5" fill="#228B22" /><polygon points="1778.2,879.4 1761.5,848.4 1794.9,848.4" fill="#fff" stroke="#228B22" stroke-width="4.0" stroke-linejoin="round"/><polygon points="1761.5,848.4 1794.9,848.4 1788.9,859.6 1767.6,859.6" fill="#228B22" /><polygon points="1820.1,880.9 1803.4,850.0 1836.8,850.0" fill="#fff" stroke="#228B22" stroke-width="4.0" stroke-linejoin="round"/><polygon points="1803.4,850.0 1836.8,850.0 1830.8,861.1 1809.4,861.1" fill="#228B22" /><polygon points="1861.9,882.9 1845.2,852.0 1878.6,852.0" fill="#fff" stroke="#228B22" stroke-width="4.0" stroke-linejoin="round"/><polygon points="1845.2,852.0 1878.6,852.0 1872.6,863.1 1851.2,863.1" fill="#228B22" /><polygon points="1903.7,876.3 1887.0,845.4 1920.4,845.4" fill="#fff" stroke="#228B22" stroke-width="4.0" stroke-linejoin="round"/><polygon points="1887.0,845.4 1920.4,845.4 1914.4,856.5 1893.0,856.5" fill="#228B22" />
<polyline points="314.4,584.0 356.2,654.8 398.0,711.8 439.9,756.4 481.7,793.3 523.5,822.6 565.3,852.6 607.2,873.7 649.0,892.5 690.8,908.0 732.6,920.3 774.5,930.3 816.3,940.3 858.1,949.6 899.9,955.6 941.8,960.3 983.6,963.3 1025.4,964.9 1067.2,964.9 1109.1,964.9 1150.9,964.6 1192.7,959.6 1234.5,955.3 1276.4,952.3 1318.2,945.9 1360.0,943.2 1401.8,940.3 1443.6,937.2 1485.5,937.2 1527.3,946.6 1569.1,958.6 1610.9,964.6 1652.8,964.5 1694.6,961.9 1736.4,963.1 1778.2,967.4 1820.1,966.2 1861.9,959.7 1903.7,978.0" fill="none" stroke="#00008B" stroke-width="3.8" stroke-linejoin="round" stroke-linecap="round"/>
<polygon points="301.9,570.7 326.9,570.7 326.9,597.4 301.9,597.4" fill="#00008B" stroke="#00008B" stroke-width="3.0" stroke-linejoin="round"/><polygon points="343.7,641.5 368.7,641.5 368.7,668.2 343.7,668.2" fill="#00008B" stroke="#00008B" stroke-width="3.0" stroke-linejoin="round"/><polygon points="385.5,698.4 410.5,698.4 410.5,725.2 385.5,725.2" fill="#00008B" stroke="#00008B" stroke-width="3.0" stroke-linejoin="round"/><polygon points="427.4,743.0 452.4,743.0 452.4,769.8 427.4,769.8" fill="#00008B" stroke="#00008B" stroke-width="3.0" stroke-linejoin="round"/><polygon points="469.2,780.0 494.2,780.0 494.2,806.7 469.2,806.7" fill="#00008B" stroke="#00008B" stroke-width="3.0" stroke-linejoin="round"/><polygon points="511.0,809.2 536.0,809.2 536.0,836.0 511.0,836.0" fill="#00008B" stroke="#00008B" stroke-width="3.0" stroke-linejoin="round"/><polygon points="552.8,839.2 577.8,839.2 577.8,866.0 552.8,866.0" fill="#00008B" stroke="#00008B" stroke-width="3.0" stroke-linejoin="round"/><polygon points="594.7,860.3 619.7,860.3 619.7,887.1 594.7,887.1" fill="#00008B" stroke="#00008B" stroke-width="3.0" stroke-linejoin="round"/><polygon points="636.5,879.1 661.5,879.1 661.5,905.8 636.5,905.8" fill="#00008B" stroke="#00008B" stroke-width="3.0" stroke-linejoin="round"/><polygon points="678.3,894.6 703.3,894.6 703.3,921.4 678.3,921.4" fill="#00008B" stroke="#00008B" stroke-width="3.0" stroke-linejoin="round"/><polygon points="720.1,906.9 745.1,906.9 745.1,933.7 720.1,933.7" fill="#00008B" stroke="#00008B" stroke-width="3.0" stroke-linejoin="round"/><polygon points="762.0,916.9 787.0,916.9 787.0,943.7 762.0,943.7" fill="#00008B" stroke="#00008B" stroke-width="3.0" stroke-linejoin="round"/><polygon points="803.8,926.9 828.8,926.9 828.8,953.7 803.8,953.7" fill="#00008B" stroke="#00008B" stroke-width="3.0" stroke-linejoin="round"/><polygon points="845.6,936.2 870.6,936.2 870.6,962.9 845.6,962.9" fill="#00008B" stroke="#00008B" stroke-width="3.0" stroke-linejoin="round"/><polygon points="887.4,942.2 912.4,942.2 912.4,968.9 887.4,968.9" fill="#00008B" stroke="#00008B" stroke-width="3.0" stroke-linejoin="round"/><polygon points="929.3,947.0 954.3,947.0 954.3,973.7 929.3,973.7" fill="#00008B" stroke="#00008B" stroke-width="3.0" stroke-linejoin="round"/><polygon points="971.1,949.9 996.1,949.9 996.1,976.6 971.1,976.6" fill="#00008B" stroke="#00008B" stroke-width="3.0" stroke-linejoin="round"/><polygon points="1012.9,951.6 1037.9,951.6 1037.9,978.3 1012.9,978.3" fill="#00008B" stroke="#00008B" stroke-width="3.0" stroke-linejoin="round"/><polygon points="1054.7,951.6 1079.7,951.6 1079.7,978.3 1054.7,978.3" fill="#00008B" stroke="#00008B" stroke-width="3.0" stroke-linejoin="round"/><polygon points="1096.6,951.6 1121.6,951.6 1121.6,978.3 1096.6,978.3" fill="#00008B" stroke="#00008B" stroke-width="3.0" stroke-linejoin="round"/><polygon points="1138.4,951.3 1163.4,951.3 1163.4,978.0 1138.4,978.0" fill="#00008B" stroke="#00008B" stroke-width="3.0" stroke-linejoin="round"/><polygon points="1180.2,946.2 1205.2,946.2 1205.2,972.9 1180.2,972.9" fill="#00008B" stroke="#00008B" stroke-width="3.0" stroke-linejoin="round"/><polygon points="1222.0,941.9 1247.0,941.9 1247.0,968.6 1222.0,968.6" fill="#00008B" stroke="#00008B" stroke-width="3.0" stroke-linejoin="round"/><polygon points="1263.9,939.0 1288.9,939.0 1288.9,965.7 1263.9,965.7" fill="#00008B" stroke="#00008B" stroke-width="3.0" stroke-linejoin="round"/><polygon points="1305.7,932.5 1330.7,932.5 1330.7,959.2 1305.7,959.2" fill="#00008B" stroke="#00008B" stroke-width="3.0" stroke-linejoin="round"/><polygon points="1347.5,929.9 1372.5,929.9 1372.5,956.6 1347.5,956.6" fill="#00008B" stroke="#00008B" stroke-width="3.0" stroke-linejoin="round"/><polygon points="1389.3,926.9 1414.3,926.9 1414.3,953.7 1389.3,953.7" fill="#00008B" stroke="#00008B" stroke-width="3.0" stroke-linejoin="round"/><polygon points="1431.1,923.9 1456.1,923.9 1456.1,950.6 1431.1,950.6" fill="#00008B" stroke="#00008B" stroke-width="3.0" stroke-linejoin="round"/><polygon points="1473.0,923.9 1498.0,923.9 1498.0,950.6 1473.0,950.6" fill="#00008B" stroke="#00008B" stroke-width="3.0" stroke-linejoin="round"/><polygon points="1514.8,933.3 1539.8,933.3 1539.8,960.0 1514.8,960.0" fill="#00008B" stroke="#00008B" stroke-width="3.0" stroke-linejoin="round"/><polygon points="1556.6,945.3 1581.6,945.3 1581.6,972.0 1556.6,972.0" fill="#00008B" stroke="#00008B" stroke-width="3.0" stroke-linejoin="round"/><polygon points="1598.4,951.3 1623.4,951.3 1623.4,978.0 1598.4,978.0" fill="#00008B" stroke="#00008B" stroke-width="3.0" stroke-linejoin="round"/><polygon points="1640.3,951.1 1665.3,951.1 1665.3,977.9 1640.3,977.9" fill="#00008B" stroke="#00008B" stroke-width="3.0" stroke-linejoin="round"/><polygon points="1682.1,948.5 1707.1,948.5 1707.1,975.2 1682.1,975.2" fill="#00008B" stroke="#00008B" stroke-width="3.0" stroke-linejoin="round"/><polygon points="1723.9,949.7 1748.9,949.7 1748.9,976.5 1723.9,976.5" fill="#00008B" stroke="#00008B" stroke-width="3.0" stroke-linejoin="round"/><polygon points="1765.7,954.0 1790.7,954.0 1790.7,980.8 1765.7,980.8" fill="#00008B" stroke="#00008B" stroke-width="3.0" stroke-linejoin="round"/><polygon points="1807.6,952.8 1832.6,952.8 1832.6,979.6 1807.6,979.6" fill="#00008B" stroke="#00008B" stroke-width="3.0" stroke-linejoin="round"/><polygon points="1849.4,946.3 1874.4,946.3 1874.4,973.1 1849.4,973.1" fill="#00008B" stroke="#00008B" stroke-width="3.0" stroke-linejoin="round"/><polygon points="1891.2,964.7 1916.2,964.7 1916.2,991.4 1891.2,991.4" fill="#00008B" stroke="#00008B" stroke-width="3.0" stroke-linejoin="round"/>
<polyline points="314.4,587.1 356.2,661.0 398.0,717.9 439.9,764.1 481.7,801.0 523.5,831.8 565.3,859.5 607.2,882.6 649.0,902.6 690.8,919.5 732.6,934.9 774.5,952.5 816.3,966.5 858.1,977.4 899.9,985.1 941.8,989.7 983.6,994.2 1025.4,994.2 1067.2,992.8 1109.1,991.1 1150.9,990.2 1192.7,984.3 1234.5,979.3 1276.4,973.7 1318.2,969.4 1360.0,966.5 1401.8,963.9 1443.6,960.9 1485.5,958.0 1527.3,960.2 1569.1,965.3 1610.9,970.3 1652.8,971.7 1694.6,970.3 1736.4,969.6 1778.2,968.8 1820.1,968.8 1861.9,978.0 1903.7,968.8" fill="none" stroke="#FF7F50" stroke-width="3.8" stroke-linejoin="round" stroke-linecap="round"/>
<ellipse cx="314.4" cy="587.1" rx="14.2" ry="15.2" fill="#FF7F50" stroke="#FF7F50" stroke-width="3.0"/><ellipse cx="356.2" cy="661.0" rx="14.2" ry="15.2" fill="#FF7F50" stroke="#FF7F50" stroke-width="3.0"/><ellipse cx="398.0" cy="717.9" rx="14.2" ry="15.2" fill="#FF7F50" stroke="#FF7F50" stroke-width="3.0"/><ellipse cx="439.9" cy="764.1" rx="14.2" ry="15.2" fill="#FF7F50" stroke="#FF7F50" stroke-width="3.0"/><ellipse cx="481.7" cy="801.0" rx="14.2" ry="15.2" fill="#FF7F50" stroke="#FF7F50" stroke-width="3.0"/><ellipse cx="523.5" cy="831.8" rx="14.2" ry="15.2" fill="#FF7F50" stroke="#FF7F50" stroke-width="3.0"/><ellipse cx="565.3" cy="859.5" rx="14.2" ry="15.2" fill="#FF7F50" stroke="#FF7F50" stroke-width="3.0"/><ellipse cx="607.2" cy="882.6" rx="14.2" ry="15.2" fill="#FF7F50" stroke="#FF7F50" stroke-width="3.0"/><ellipse cx="649.0" cy="902.6" rx="14.2" ry="15.2" fill="#FF7F50" stroke="#FF7F50" stroke-width="3.0"/><ellipse cx="690.8" cy="919.5" rx="14.2" ry="15.2" fill="#FF7F50" stroke="#FF7F50" stroke-width="3.0"/><ellipse cx="732.6" cy="934.9" rx="14.2" ry="15.2" fill="#FF7F50" stroke="#FF7F50" stroke-width="3.0"/><ellipse cx="774.5" cy="952.5" rx="14.2" ry="15.2" fill="#FF7F50" stroke="#FF7F50" stroke-width="3.0"/><ellipse cx="816.3" cy="966.5" rx="14.2" ry="15.2" fill="#FF7F50" stroke="#FF7F50" stroke-width="3.0"/><ellipse cx="858.1" cy="977.4" rx="14.2" ry="15.2" fill="#FF7F50" stroke="#FF7F50" stroke-width="3.0"/><ellipse cx="899.9" cy="985.1" rx="14.2" ry="15.2" fill="#FF7F50" stroke="#FF7F50" stroke-width="3.0"/><ellipse cx="941.8" cy="989.7" rx="14.2" ry="15.2" fill="#FF7F50" stroke="#FF7F50" stroke-width="3.0"/><ellipse cx="983.6" cy="994.2" rx="14.2" ry="15.2" fill="#FF7F50" stroke="#FF7F50" stroke-width="3.0"/><ellipse cx="1025.4" cy="994.2" rx="14.2" ry="15.2" fill="#FF7F50" stroke="#FF7F50" stroke-width="3.0"/><ellipse cx="1067.2" cy="992.8" rx="14.2" ry="15.2" fill="#FF7F50" stroke="#FF7F50" stroke-width="3.0"/><ellipse cx="1109.1" cy="991.1" rx="14.2" ry="15.2" fill="#FF7F50" stroke="#FF7F50" stroke-width="3.0"/><ellipse cx="1150.9" cy="990.2" rx="14.2" ry="15.2" fill="#FF7F50" stroke="#FF7F50" stroke-width="3.0"/><ellipse cx="1192.7" cy="984.3" rx="14.2" ry="15.2" fill="#FF7F50" stroke="#FF7F50" stroke-width="3.0"/><ellipse cx="1234.5" cy="979.3" rx="14.2" ry="15.2" fill="#FF7F50" stroke="#FF7F50" stroke-width="3.0"/><ellipse cx="1276.4" cy="973.7" rx="14.2" ry="15.2" fill="#FF7F50" stroke="#FF7F50" stroke-width="3.0"/><ellipse cx="1318.2" cy="969.4" rx="14.2" ry="15.2" fill="#FF7F50" stroke="#FF7F50" stroke-width="3.0"/><ellipse cx="1360.0" cy="966.5" rx="14.2" ry="15.2" fill="#FF7F50" stroke="#FF7F50" stroke-width="3.0"/><ellipse cx="1401.8" cy="963.9" rx="14.2" ry="15.2" fill="#FF7F50" stroke="#FF7F50" stroke-width="3.0"/><ellipse cx="1443.6" cy="960.9" rx="14.2" ry="15.2" fill="#FF7F50" stroke="#FF7F50" stroke-width="3.0"/><ellipse cx="1485.5" cy="958.0" rx="14.2" ry="15.2" fill="#FF7F50" stroke="#FF7F50" stroke-width="3.0"/><ellipse cx="1527.3" cy="960.2" rx="14.2" ry="15.2" fill="#FF7F50" stroke="#FF7F50" stroke-width="3.0"/><ellipse cx="1569.1" cy="965.3" rx="14.2" ry="15.2" fill="#FF7F50" stroke="#FF7F50" stroke-width="3.0"/><ellipse cx="1610.9" cy="970.3" rx="14.2" ry="15.2" fill="#FF7F50" stroke="#FF7F50" stroke-width="3.0"/><ellipse cx="1652.8" cy="971.7" rx="14.2" ry="15.2" fill="#FF7F50" stroke="#FF7F50" stroke-width="3.0"/><ellipse cx="1694.6" cy="970.3" rx="14.2" ry="15.2" fill="#FF7F50" stroke="#FF7F50" stroke-width="3.0"/><ellipse cx="1736.4" cy="969.6" rx="14.2" ry="15.2" fill="#FF7F50" stroke="#FF7F50" stroke-width="3.0"/><ellipse cx="1778.2" cy="968.8" rx="14.2" ry="15.2" fill="#FF7F50" stroke="#FF7F50" stroke-width="3.0"/><ellipse cx="1820.1" cy="968.8" rx="14.2" ry="15.2" fill="#FF7F50" stroke="#FF7F50" stroke-width="3.0"/><ellipse cx="1861.9" cy="978.0" rx="14.2" ry="15.2" fill="#FF7F50" stroke="#FF7F50" stroke-width="3.0"/><ellipse cx="1903.7" cy="968.8" rx="14.2" ry="15.2" fill="#FF7F50" stroke="#FF7F50" stroke-width="3.0"/>
<polyline points="314.4,588.7 356.2,665.6 398.0,722.6 439.9,768.7 481.7,805.7 523.5,838.0 565.3,864.9 607.2,888.8 649.0,910.3 690.8,925.7 732.6,942.6 774.5,964.2 816.3,978.0 858.1,989.7 899.9,997.6 941.8,1005.3 983.6,1008.0 1025.4,1009.4 1067.2,1009.4 1109.1,1006.7 1150.9,1004.2 1192.7,996.5 1234.5,991.9 1276.4,986.5 1318.2,981.1 1360.0,976.5 1401.8,973.4 1443.6,970.3 1485.5,970.3 1527.3,975.0 1569.1,979.6 1610.9,978.8 1652.8,976.5 1694.6,973.4 1736.4,970.3 1778.2,970.3 1820.1,970.3 1861.9,971.1 1903.7,984.2" fill="none" stroke="#008080" stroke-width="3.8" stroke-linejoin="round" stroke-linecap="round"/>
<polygon points="314.4,568.0 297.7,599.0 331.1,599.0" fill="#008080" stroke="#008080" stroke-width="3.0" stroke-linejoin="round"/><polygon points="356.2,645.0 339.5,675.9 372.9,675.9" fill="#008080" stroke="#008080" stroke-width="3.0" stroke-linejoin="round"/><polygon points="398.0,701.9 381.3,732.9 414.7,732.9" fill="#008080" stroke="#008080" stroke-width="3.0" stroke-linejoin="round"/><polygon points="439.9,748.1 423.2,779.0 456.6,779.0" fill="#008080" stroke="#008080" stroke-width="3.0" stroke-linejoin="round"/><polygon points="481.7,785.0 465.0,816.0 498.4,816.0" fill="#008080" stroke="#008080" stroke-width="3.0" stroke-linejoin="round"/><polygon points="523.5,817.3 506.8,848.3 540.2,848.3" fill="#008080" stroke="#008080" stroke-width="3.0" stroke-linejoin="round"/><polygon points="565.3,844.3 548.6,875.2 582.0,875.2" fill="#008080" stroke="#008080" stroke-width="3.0" stroke-linejoin="round"/><polygon points="607.2,868.1 590.5,899.1 623.9,899.1" fill="#008080" stroke="#008080" stroke-width="3.0" stroke-linejoin="round"/><polygon points="649.0,889.7 632.3,920.6 665.7,920.6" fill="#008080" stroke="#008080" stroke-width="3.0" stroke-linejoin="round"/><polygon points="690.8,905.1 674.1,936.0 707.5,936.0" fill="#008080" stroke="#008080" stroke-width="3.0" stroke-linejoin="round"/><polygon points="732.6,922.0 715.9,952.9 749.3,952.9" fill="#008080" stroke="#008080" stroke-width="3.0" stroke-linejoin="round"/><polygon points="774.5,943.5 757.8,974.5 791.2,974.5" fill="#008080" stroke="#008080" stroke-width="3.0" stroke-linejoin="round"/><polygon points="816.3,957.4 799.6,988.3 833.0,988.3" fill="#008080" stroke="#008080" stroke-width="3.0" stroke-linejoin="round"/><polygon points="858.1,969.1 841.4,1000.0 874.8,1000.0" fill="#008080" stroke="#008080" stroke-width="3.0" stroke-linejoin="round"/><polygon points="899.9,976.9 883.2,1007.9 916.6,1007.9" fill="#008080" stroke="#008080" stroke-width="3.0" stroke-linejoin="round"/><polygon points="941.8,984.6 925.1,1015.6 958.5,1015.6" fill="#008080" stroke="#008080" stroke-width="3.0" stroke-linejoin="round"/><polygon points="983.6,987.4 966.9,1018.4 1000.3,1018.4" fill="#008080" stroke="#008080" stroke-width="3.0" stroke-linejoin="round"/><polygon points="1025.4,988.8 1008.7,1019.7 1042.1,1019.7" fill="#008080" stroke="#008080" stroke-width="3.0" stroke-linejoin="round"/><polygon points="1067.2,988.8 1050.5,1019.7 1083.9,1019.7" fill="#008080" stroke="#008080" stroke-width="3.0" stroke-linejoin="round"/><polygon points="1109.1,986.0 1092.4,1017.0 1125.8,1017.0" fill="#008080" stroke="#008080" stroke-width="3.0" stroke-linejoin="round"/><polygon points="1150.9,983.6 1134.2,1014.5 1167.6,1014.5" fill="#008080" stroke="#008080" stroke-width="3.0" stroke-linejoin="round"/><polygon points="1192.7,975.9 1176.0,1006.8 1209.4,1006.8" fill="#008080" stroke="#008080" stroke-width="3.0" stroke-linejoin="round"/><polygon points="1234.5,971.2 1217.8,1002.2 1251.2,1002.2" fill="#008080" stroke="#008080" stroke-width="3.0" stroke-linejoin="round"/><polygon points="1276.4,965.9 1259.7,996.8 1293.1,996.8" fill="#008080" stroke="#008080" stroke-width="3.0" stroke-linejoin="round"/><polygon points="1318.2,960.5 1301.5,991.4 1334.9,991.4" fill="#008080" stroke="#008080" stroke-width="3.0" stroke-linejoin="round"/><polygon points="1360.0,955.9 1343.3,986.8 1376.7,986.8" fill="#008080" stroke="#008080" stroke-width="3.0" stroke-linejoin="round"/><polygon points="1401.8,952.8 1385.1,983.7 1418.5,983.7" fill="#008080" stroke="#008080" stroke-width="3.0" stroke-linejoin="round"/><polygon points="1443.6,949.7 1426.9,980.7 1460.3,980.7" fill="#008080" stroke="#008080" stroke-width="3.0" stroke-linejoin="round"/><polygon points="1485.5,949.7 1468.8,980.7 1502.2,980.7" fill="#008080" stroke="#008080" stroke-width="3.0" stroke-linejoin="round"/><polygon points="1527.3,954.3 1510.6,985.3 1544.0,985.3" fill="#008080" stroke="#008080" stroke-width="3.0" stroke-linejoin="round"/><polygon points="1569.1,958.9 1552.4,989.9 1585.8,989.9" fill="#008080" stroke="#008080" stroke-width="3.0" stroke-linejoin="round"/><polygon points="1610.9,958.2 1594.2,989.1 1627.6,989.1" fill="#008080" stroke="#008080" stroke-width="3.0" stroke-linejoin="round"/><polygon points="1652.8,955.9 1636.1,986.8 1669.5,986.8" fill="#008080" stroke="#008080" stroke-width="3.0" stroke-linejoin="round"/><polygon points="1694.6,952.8 1677.9,983.7 1711.3,983.7" fill="#008080" stroke="#008080" stroke-width="3.0" stroke-linejoin="round"/><polygon points="1736.4,949.7 1719.7,980.7 1753.1,980.7" fill="#008080" stroke="#008080" stroke-width="3.0" stroke-linejoin="round"/><polygon points="1778.2,949.7 1761.5,980.7 1794.9,980.7" fill="#008080" stroke="#008080" stroke-width="3.0" stroke-linejoin="round"/><polygon points="1820.1,949.7 1803.4,980.7 1836.8,980.7" fill="#008080" stroke="#008080" stroke-width="3.0" stroke-linejoin="round"/><polygon points="1861.9,950.5 1845.2,981.4 1878.6,981.4" fill="#008080" stroke="#008080" stroke-width="3.0" stroke-linejoin="round"/><polygon points="1903.7,963.6 1887.0,994.5 1920.4,994.5" fill="#008080" stroke="#008080" stroke-width="3.0" stroke-linejoin="round"/>
<polyline points="314.4,590.2 356.2,667.2 398.0,724.1 439.9,771.8 481.7,808.7 523.5,841.1 565.3,868.0 607.2,892.0 649.0,913.4 690.8,929.4 732.6,945.7 774.5,968.8 816.3,983.4 858.1,994.5 899.9,1004.2 941.8,1009.9 983.6,1013.3 1025.4,1014.7 1067.2,1013.3 1109.1,1011.3 1150.9,1007.6 1192.7,1001.4 1234.5,997.0 1276.4,991.9 1318.2,986.3 1360.0,982.2 1401.8,979.1 1443.6,975.7 1485.5,986.2 1527.3,991.4 1569.1,989.6 1610.9,984.2 1652.8,979.9 1694.6,976.5 1736.4,972.6 1778.2,974.2 1820.1,971.9 1861.9,971.9 1903.7,971.9" fill="none" stroke="#228B22" stroke-width="3.8" stroke-linejoin="round" stroke-linecap="round"/>
<polygon points="314.4,610.8 297.7,579.9 331.1,579.9" fill="#228B22" stroke="#228B22" stroke-width="3.0" stroke-linejoin="round"/><polygon points="356.2,687.8 339.5,656.8 372.9,656.8" fill="#228B22" stroke="#228B22" stroke-width="3.0" stroke-linejoin="round"/><polygon points="398.0,744.7 381.3,713.8 414.7,713.8" fill="#228B22" stroke="#228B22" stroke-width="3.0" stroke-linejoin="round"/><polygon points="439.9,792.4 423.2,761.5 456.6,761.5" fill="#228B22" stroke="#228B22" stroke-width="3.0" stroke-linejoin="round"/><polygon points="481.7,829.4 465.0,798.4 498.4,798.4" fill="#228B22" stroke="#228B22" stroke-width="3.0" stroke-linejoin="round"/><polygon points="523.5,861.7 506.8,830.7 540.2,830.7" fill="#228B22" stroke="#228B22" stroke-width="3.0" stroke-linejoin="round"/><polygon points="565.3,888.6 548.6,857.7 582.0,857.7" fill="#228B22" stroke="#228B22" stroke-width="3.0" stroke-linejoin="round"/><polygon points="607.2,912.6 590.5,881.7 623.9,881.7" fill="#228B22" stroke="#228B22" stroke-width="3.0" stroke-linejoin="round"/><polygon points="649.0,934.0 632.3,903.1 665.7,903.1" fill="#228B22" stroke="#228B22" stroke-width="3.0" stroke-linejoin="round"/><polygon points="690.8,950.0 674.1,919.1 707.5,919.1" fill="#228B22" stroke="#228B22" stroke-width="3.0" stroke-linejoin="round"/><polygon points="732.6,966.3 715.9,935.4 749.3,935.4" fill="#228B22" stroke="#228B22" stroke-width="3.0" stroke-linejoin="round"/><polygon points="774.5,989.4 757.8,958.5 791.2,958.5" fill="#228B22" stroke="#228B22" stroke-width="3.0" stroke-linejoin="round"/><polygon points="816.3,1004.0 799.6,973.1 833.0,973.1" fill="#228B22" stroke="#228B22" stroke-width="3.0" stroke-linejoin="round"/><polygon points="858.1,1015.1 841.4,984.2 874.8,984.2" fill="#228B22" stroke="#228B22" stroke-width="3.0" stroke-linejoin="round"/><polygon points="899.9,1024.8 883.2,993.9 916.6,993.9" fill="#228B22" stroke="#228B22" stroke-width="3.0" stroke-linejoin="round"/><polygon points="941.8,1030.5 925.1,999.6 958.5,999.6" fill="#228B22" stroke="#228B22" stroke-width="3.0" stroke-linejoin="round"/><polygon points="983.6,1033.9 966.9,1003.0 1000.3,1003.0" fill="#228B22" stroke="#228B22" stroke-width="3.0" stroke-linejoin="round"/><polygon points="1025.4,1035.3 1008.7,1004.3 1042.1,1004.3" fill="#228B22" stroke="#228B22" stroke-width="3.0" stroke-linejoin="round"/><polygon points="1067.2,1033.9 1050.5,1003.0 1083.9,1003.0" fill="#228B22" stroke="#228B22" stroke-width="3.0" stroke-linejoin="round"/><polygon points="1109.1,1031.9 1092.4,1001.0 1125.8,1001.0" fill="#228B22" stroke="#228B22" stroke-width="3.0" stroke-linejoin="round"/><polygon points="1150.9,1028.2 1134.2,997.3 1167.6,997.3" fill="#228B22" stroke="#228B22" stroke-width="3.0" stroke-linejoin="round"/><polygon points="1192.7,1022.1 1176.0,991.1 1209.4,991.1" fill="#228B22" stroke="#228B22" stroke-width="3.0" stroke-linejoin="round"/><polygon points="1234.5,1017.6 1217.8,986.6 1251.2,986.6" fill="#228B22" stroke="#228B22" stroke-width="3.0" stroke-linejoin="round"/><polygon points="1276.4,1012.5 1259.7,981.6 1293.1,981.6" fill="#228B22" stroke="#228B22" stroke-width="3.0" stroke-linejoin="round"/><polygon points="1318.2,1007.0 1301.5,976.0 1334.9,976.0" fill="#228B22" stroke="#228B22" stroke-width="3.0" stroke-linejoin="round"/><polygon points="1360.0,1002.8 1343.3,971.9 1376.7,971.9" fill="#228B22" stroke="#228B22" stroke-width="3.0" stroke-linejoin="round"/><polygon points="1401.8,999.7 1385.1,968.8 1418.5,968.8" fill="#228B22" stroke="#228B22" stroke-width="3.0" stroke-linejoin="round"/><polygon points="1443.6,996.4 1426.9,965.4 1460.3,965.4" fill="#228B22" stroke="#228B22" stroke-width="3.0" stroke-linejoin="round"/><polygon points="1485.5,1006.8 1468.8,975.9 1502.2,975.9" fill="#228B22" stroke="#228B22" stroke-width="3.0" stroke-linejoin="round"/><polygon points="1527.3,1012.1 1510.6,981.1 1544.0,981.1" fill="#228B22" stroke="#228B22" stroke-width="3.0" stroke-linejoin="round"/><polygon points="1569.1,1010.2 1552.4,979.3 1585.8,979.3" fill="#228B22" stroke="#228B22" stroke-width="3.0" stroke-linejoin="round"/><polygon points="1610.9,1004.8 1594.2,973.9 1627.6,973.9" fill="#228B22" stroke="#228B22" stroke-width="3.0" stroke-linejoin="round"/><polygon points="1652.8,1000.5 1636.1,969.6 1669.5,969.6" fill="#228B22" stroke="#228B22" stroke-width="3.0" stroke-linejoin="round"/><polygon points="1694.6,997.1 1677.9,966.2 1711.3,966.2" fill="#228B22" stroke="#228B22" stroke-width="3.0" stroke-linejoin="round"/><polygon points="1736.4,993.3 1719.7,962.3 1753.1,962.3" fill="#228B22" stroke="#228B22" stroke-width="3.0" stroke-linejoin="round"/><polygon points="1778.2,994.8 1761.5,963.9 1794.9,963.9" fill="#228B22" stroke="#228B22" stroke-width="3.0" stroke-linejoin="round"/><polygon points="1820.1,992.5 1803.4,961.6 1836.8,961.6" fill="#228B22" stroke="#228B22" stroke-width="3.0" stroke-linejoin="round"/><polygon points="1861.9,992.5 1845.2,961.6 1878.6,961.6" fill="#228B22" stroke="#228B22" stroke-width="3.0" stroke-linejoin="round"/><polygon points="1903.7,992.5 1887.0,961.6 1920.4,961.6" fill="#228B22" stroke="#228B22" stroke-width="3.0" stroke-linejoin="round"/>
<rect x="836.8" y="771.6" width="313.0" height="280.0" fill="none" stroke="#000" stroke-width="2.4"/>
<line x1="878.8" y1="770.6" x2="1036" y2="636.6" stroke="#000" stroke-width="4.2"/>
<polygon points="1049.4,625.2 1035.3,657 1028.6,642 1016,633" fill="#000"/>
<rect x="294.0" y="37.8" width="1693.4" height="1077.2" fill="none" stroke="#000" stroke-width="4"/>
<path d="M314.4 1115.0v-19.5M419.0 1115.0v-19.5M523.5 1115.0v-19.5M628.1 1115.0v-19.5M732.6 1115.0v-19.5M837.2 1115.0v-19.5M941.8 1115.0v-19.5M1046.3 1115.0v-19.5M1150.9 1115.0v-19.5M1255.4 1115.0v-19.5M1360.0 1115.0v-19.5M1464.6 1115.0v-19.5M1569.1 1115.0v-19.5M1673.7 1115.0v-19.5M1778.2 1115.0v-19.5M1882.8 1115.0v-19.5M294.0 1038.0h18M294.0 961.1h18M294.0 884.1h18M294.0 807.2h18M294.0 730.2h18M294.0 653.3h18M294.0 576.4h18M294.0 499.4h18M294.0 422.4h18M294.0 345.5h18M294.0 268.5h18M294.0 191.6h18M294.0 114.6h18" stroke="#000" stroke-width="3.6" stroke-linecap="round" fill="none"/>
<text x="281.5" y="1215.0" font-size="64" textLength="65.7" lengthAdjust="spacing">10</text>
<text x="386.1" y="1215.0" font-size="64" textLength="65.7" lengthAdjust="spacing">15</text>
<text x="492.0" y="1215.0" font-size="64" textLength="65.8" lengthAdjust="spacing">20</text>
<text x="596.5" y="1215.0" font-size="64" textLength="65.8" lengthAdjust="spacing">25</text>
<text x="700.9" y="1215.0" font-size="64" textLength="65.8" lengthAdjust="spacing">30</text>
<text x="805.5" y="1215.0" font-size="64" textLength="65.8" lengthAdjust="spacing">35</text>
<text x="910.9" y="1215.0" font-size="64" textLength="65.8" lengthAdjust="spacing">40</text>
<text x="1015.5" y="1215.0" font-size="64" textLength="65.8" lengthAdjust="spacing">45</text>
<text x="1118.9" y="1215.0" font-size="64" textLength="65.7" lengthAdjust="spacing">50</text>
<text x="1223.5" y="1215.0" font-size="64" textLength="65.7" lengthAdjust="spacing">55</text>
<text x="1328.5" y="1215.0" font-size="64" textLength="65.8" lengthAdjust="spacing">60</text>
<text x="1433.1" y="1215.0" font-size="64" textLength="65.8" lengthAdjust="spacing">65</text>
<text x="1536.9" y="1215.0" font-size="64" textLength="65.7" lengthAdjust="spacing">70</text>
<text x="1641.5" y="1215.0" font-size="64" textLength="65.7" lengthAdjust="spacing">75</text>
<text x="1746.9" y="1215.0" font-size="64" textLength="65.8" lengthAdjust="spacing">80</text>
<text x="1851.4" y="1215.0" font-size="64" textLength="65.8" lengthAdjust="spacing">85</text>
<text x="1956.2" y="1215.0" font-size="64" textLength="65.8" lengthAdjust="spacing">90</text>
<text x="161.2" y="55.6" font-size="64" textLength="84.8" lengthAdjust="spacing">7.5</text>
<text x="161.2" y="134.6" font-size="64" textLength="84.8" lengthAdjust="spacing">7.0</text>
<text x="161.1" y="210.7" font-size="64" textLength="84.9" lengthAdjust="spacing">6.5</text>
<text x="161.1" y="287.2" font-size="64" textLength="84.9" lengthAdjust="spacing">6.0</text>
<text x="161.2" y="363.2" font-size="64" textLength="84.8" lengthAdjust="spacing">5.5</text>
<text x="161.1" y="442.0" font-size="64" textLength="84.8" lengthAdjust="spacing">5.0</text>
<text x="161.0" y="518.9" font-size="64" textLength="85.0" lengthAdjust="spacing">4.5</text>
<text x="161.0" y="595.8" font-size="64" textLength="85.0" lengthAdjust="spacing">4.0</text>
<text x="161.2" y="675.0" font-size="64" textLength="84.8" lengthAdjust="spacing">3.5</text>
<text x="161.1" y="753.0" font-size="64" textLength="84.8" lengthAdjust="spacing">3.0</text>
<text x="161.1" y="832.5" font-size="64" textLength="84.9" lengthAdjust="spacing">2.5</text>
<text x="161.1" y="911.5" font-size="64" textLength="84.9" lengthAdjust="spacing">2.0</text>
<text x="161.3" y="986.0" font-size="64" textLength="84.7" lengthAdjust="spacing">1.5</text>
<text x="161.3" y="1065.5" font-size="64" textLength="84.7" lengthAdjust="spacing">1.0</text>
<text x="161.1" y="1142.5" font-size="64" textLength="84.9" lengthAdjust="spacing">0.5</text>
<text x="819.5" y="1331.0" font-size="66" textLength="196.0" lengthAdjust="spacing">阵列中</text><text x="1020.9" y="1331.0" font-size="70.5" textLength="45.1" lengthAdjust="spacingAndGlyphs">P</text><text x="1067.1" y="1331.0" font-size="70.5" textLength="49.7" lengthAdjust="spacingAndGlyphs">D</text><text x="1116.9" y="1331.0" font-size="66" textLength="199.0" lengthAdjust="spacing">的倾角</text><text x="1315.7" y="1331.0" font-size="68" class="it">α</text><text x="1383.4" y="1331.0" font-size="73">(</text><text x="1406.0" y="1331.0" font-size="69">°</text><text x="1438.4" y="1331.0" font-size="73">)</text>
<text x="734.5" y="1440.0" font-size="73">(</text><text x="758.7" y="1440.0" font-size="66">a</text><text x="797.2" y="1440.0" font-size="73">)</text><text x="841.0" y="1440.0" font-size="66" textLength="266.9" lengthAdjust="spacing">不同倾角</text><text x="1106.0" y="1440.0" font-size="68" class="it">α</text><text x="1151.3" y="1440.0" font-size="66">下的估算误差</text>
<g transform="translate(92.3 1089.0) rotate(-90)"><text x="-0.8" y="0.0" font-size="66">入射角余弦值平均估算误差</text><text x="818.7" y="0.0" font-size="73">(</text><text x="847.4" y="8.5" font-size="76">×</text><text x="895.7" y="0.0" font-size="66">10</text><text x="962.8" y="-26.4" font-size="33">−</text><text x="982.7" y="-23.0" font-size="39">2</text><text x="1002.9" y="0.0" font-size="73">)</text></g>
</g>
<g id="inset">
<rect x="703.3" y="87.2" width="454.5" height="296.1" fill="#fff" stroke="none"/>
<clipPath id="ic"><rect x="703.3" y="87.2" width="466.5" height="296.1"/></clipPath>
<g clip-path="url(#ic)">
<polyline points="673.0,54.2 733.6,75.4 794.2,94.3 854.8,106.9 915.4,116.2 976.0,121.5 1036.6,122.3 1097.2,123.3 1157.8,115.4" fill="none" stroke="#00008B" stroke-width="4.2" stroke-linejoin="round" stroke-linecap="round"/>
<polygon points="729.0,70.4 738.2,70.4 738.2,80.3 729.0,80.3" fill="#00008B" stroke="#00008B" stroke-width="2.0" stroke-linejoin="round"/><polygon points="789.6,89.4 798.8,89.4 798.8,99.3 789.6,99.3" fill="#00008B" stroke="#00008B" stroke-width="2.0" stroke-linejoin="round"/><polygon points="850.2,102.0 859.4,102.0 859.4,111.9 850.2,111.9" fill="#00008B" stroke="#00008B" stroke-width="2.0" stroke-linejoin="round"/><polygon points="910.8,111.3 920.0,111.3 920.0,121.2 910.8,121.2" fill="#00008B" stroke="#00008B" stroke-width="2.0" stroke-linejoin="round"/><polygon points="971.4,116.6 980.6,116.6 980.6,126.5 971.4,126.5" fill="#00008B" stroke="#00008B" stroke-width="2.0" stroke-linejoin="round"/><polygon points="1032.0,117.4 1041.2,117.4 1041.2,127.3 1032.0,127.3" fill="#00008B" stroke="#00008B" stroke-width="2.0" stroke-linejoin="round"/><polygon points="1092.6,118.4 1101.8,118.4 1101.8,128.3 1092.6,128.3" fill="#00008B" stroke="#00008B" stroke-width="2.0" stroke-linejoin="round"/><polygon points="1153.2,110.5 1162.4,110.5 1162.4,120.4 1153.2,120.4" fill="#00008B" stroke="#00008B" stroke-width="2.0" stroke-linejoin="round"/>
<polyline points="673.0,130.6 733.6,157.9 794.2,177.8 854.8,189.5 915.4,200.7 976.0,200.3 1036.6,195.8 1097.2,191.8 1157.8,183.7" fill="none" stroke="#FF7F50" stroke-width="4.2" stroke-linejoin="round" stroke-linecap="round"/>
<ellipse cx="733.6" cy="157.9" rx="5.3" ry="5.6" fill="#FF7F50" stroke="#FF7F50" stroke-width="2.0"/><ellipse cx="794.2" cy="177.8" rx="5.3" ry="5.6" fill="#FF7F50" stroke="#FF7F50" stroke-width="2.0"/><ellipse cx="854.8" cy="189.5" rx="5.3" ry="5.6" fill="#FF7F50" stroke="#FF7F50" stroke-width="2.0"/><ellipse cx="915.4" cy="200.7" rx="5.3" ry="5.6" fill="#FF7F50" stroke="#FF7F50" stroke-width="2.0"/><ellipse cx="976.0" cy="200.3" rx="5.3" ry="5.6" fill="#FF7F50" stroke="#FF7F50" stroke-width="2.0"/><ellipse cx="1036.6" cy="195.8" rx="5.3" ry="5.6" fill="#FF7F50" stroke="#FF7F50" stroke-width="2.0"/><ellipse cx="1097.2" cy="191.8" rx="5.3" ry="5.6" fill="#FF7F50" stroke="#FF7F50" stroke-width="2.0"/><ellipse cx="1157.8" cy="183.7" rx="5.3" ry="5.6" fill="#FF7F50" stroke="#FF7F50" stroke-width="2.0"/>
<polyline points="673.0,166.2 733.6,188.1 794.2,206.4 854.8,225.4 915.4,231.9 976.0,234.7 1036.6,234.5 1097.2,225.4 1157.8,217.7" fill="none" stroke="#008080" stroke-width="4.2" stroke-linejoin="round" stroke-linecap="round"/>
<polygon points="733.6,180.4 727.4,191.9 739.8,191.9" fill="#008080" stroke="#008080" stroke-width="2.0" stroke-linejoin="round"/><polygon points="794.2,198.8 788.0,210.2 800.4,210.2" fill="#008080" stroke="#008080" stroke-width="2.0" stroke-linejoin="round"/><polygon points="854.8,217.7 848.6,229.2 861.0,229.2" fill="#008080" stroke="#008080" stroke-width="2.0" stroke-linejoin="round"/><polygon points="915.4,224.3 909.2,235.7 921.6,235.7" fill="#008080" stroke="#008080" stroke-width="2.0" stroke-linejoin="round"/><polygon points="976.0,227.0 969.8,238.5 982.2,238.5" fill="#008080" stroke="#008080" stroke-width="2.0" stroke-linejoin="round"/><polygon points="1036.6,226.8 1030.4,238.3 1042.8,238.3" fill="#008080" stroke="#008080" stroke-width="2.0" stroke-linejoin="round"/><polygon points="1097.2,217.7 1091.0,229.2 1103.4,229.2" fill="#008080" stroke="#008080" stroke-width="2.0" stroke-linejoin="round"/><polygon points="1157.8,210.0 1151.6,221.5 1164.0,221.5" fill="#008080" stroke="#008080" stroke-width="2.0" stroke-linejoin="round"/>
<polyline points="673.0,176.0 733.6,202.9 794.2,224.8 854.8,240.4 915.4,247.1 976.0,250.6 1036.6,245.7 1097.2,241.8 1157.8,232.3" fill="none" stroke="#228B22" stroke-width="4.2" stroke-linejoin="round" stroke-linecap="round"/>
<polygon points="733.6,210.5 727.4,199.1 739.8,199.1" fill="#228B22" stroke="#228B22" stroke-width="2.0" stroke-linejoin="round"/><polygon points="794.2,232.4 788.0,221.0 800.4,221.0" fill="#228B22" stroke="#228B22" stroke-width="2.0" stroke-linejoin="round"/><polygon points="854.8,248.0 848.6,236.6 861.0,236.6" fill="#228B22" stroke="#228B22" stroke-width="2.0" stroke-linejoin="round"/><polygon points="915.4,254.7 909.2,243.3 921.6,243.3" fill="#228B22" stroke="#228B22" stroke-width="2.0" stroke-linejoin="round"/><polygon points="976.0,258.3 969.8,246.8 982.2,246.8" fill="#228B22" stroke="#228B22" stroke-width="2.0" stroke-linejoin="round"/><polygon points="1036.6,253.3 1030.4,241.9 1042.8,241.9" fill="#228B22" stroke="#228B22" stroke-width="2.0" stroke-linejoin="round"/><polygon points="1097.2,249.4 1091.0,237.9 1103.4,237.9" fill="#228B22" stroke="#228B22" stroke-width="2.0" stroke-linejoin="round"/><polygon points="1157.8,239.9 1151.6,228.5 1164.0,228.5" fill="#228B22" stroke="#228B22" stroke-width="2.0" stroke-linejoin="round"/>
<polyline points="673.0,258.0 733.6,269.8 794.2,277.5 854.8,283.6 915.4,287.4 976.0,289.5 1036.6,289.5 1097.2,289.5 1157.8,289.1" fill="none" stroke="#00008B" stroke-width="4.2" stroke-linejoin="round" stroke-linecap="round"/>
<polygon points="730.8,266.9 736.3,266.9 736.3,272.7 730.8,272.7" fill="#00008B" stroke="#00008B" stroke-width="2.0" stroke-linejoin="round"/><polygon points="791.4,274.6 796.9,274.6 796.9,280.4 791.4,280.4" fill="#00008B" stroke="#00008B" stroke-width="2.0" stroke-linejoin="round"/><polygon points="852.0,280.7 857.5,280.7 857.5,286.6 852.0,286.6" fill="#00008B" stroke="#00008B" stroke-width="2.0" stroke-linejoin="round"/><polygon points="912.6,284.4 918.1,284.4 918.1,290.3 912.6,290.3" fill="#00008B" stroke="#00008B" stroke-width="2.0" stroke-linejoin="round"/><polygon points="973.2,286.6 978.8,286.6 978.8,292.5 973.2,292.5" fill="#00008B" stroke="#00008B" stroke-width="2.0" stroke-linejoin="round"/><polygon points="1033.8,286.6 1039.3,286.6 1039.3,292.5 1033.8,292.5" fill="#00008B" stroke="#00008B" stroke-width="2.0" stroke-linejoin="round"/><polygon points="1094.4,286.6 1099.9,286.6 1099.9,292.5 1094.4,292.5" fill="#00008B" stroke="#00008B" stroke-width="2.0" stroke-linejoin="round"/><polygon points="1155.0,286.2 1160.5,286.2 1160.5,292.1 1155.0,292.1" fill="#00008B" stroke="#00008B" stroke-width="2.0" stroke-linejoin="round"/>
<polyline points="673.0,291.5 733.6,305.5 794.2,315.4 854.8,321.3 915.4,327.0 976.0,327.0 1036.6,325.3 1097.2,323.1 1157.8,321.9" fill="none" stroke="#FF7F50" stroke-width="4.2" stroke-linejoin="round" stroke-linecap="round"/>
<ellipse cx="733.6" cy="305.5" rx="3.1" ry="3.4" fill="#FF7F50" stroke="#FF7F50" stroke-width="2.0"/><ellipse cx="794.2" cy="315.4" rx="3.1" ry="3.4" fill="#FF7F50" stroke="#FF7F50" stroke-width="2.0"/><ellipse cx="854.8" cy="321.3" rx="3.1" ry="3.4" fill="#FF7F50" stroke="#FF7F50" stroke-width="2.0"/><ellipse cx="915.4" cy="327.0" rx="3.1" ry="3.4" fill="#FF7F50" stroke="#FF7F50" stroke-width="2.0"/><ellipse cx="976.0" cy="327.0" rx="3.1" ry="3.4" fill="#FF7F50" stroke="#FF7F50" stroke-width="2.0"/><ellipse cx="1036.6" cy="325.3" rx="3.1" ry="3.4" fill="#FF7F50" stroke="#FF7F50" stroke-width="2.0"/><ellipse cx="1097.2" cy="323.1" rx="3.1" ry="3.4" fill="#FF7F50" stroke="#FF7F50" stroke-width="2.0"/><ellipse cx="1157.8" cy="321.9" rx="3.1" ry="3.4" fill="#FF7F50" stroke="#FF7F50" stroke-width="2.0"/>
<polyline points="673.0,306.3 733.6,321.3 794.2,331.4 854.8,341.3 915.4,344.8 976.0,346.6 1036.6,346.6 1097.2,343.0 1157.8,339.9" fill="none" stroke="#008080" stroke-width="4.2" stroke-linejoin="round" stroke-linecap="round"/>
<polygon points="733.6,316.8 729.9,323.6 737.3,323.6" fill="#008080" stroke="#008080" stroke-width="2.0" stroke-linejoin="round"/><polygon points="794.2,326.8 790.5,333.7 797.9,333.7" fill="#008080" stroke="#008080" stroke-width="2.0" stroke-linejoin="round"/><polygon points="854.8,336.7 851.1,343.5 858.5,343.5" fill="#008080" stroke="#008080" stroke-width="2.0" stroke-linejoin="round"/><polygon points="915.4,340.3 911.7,347.1 919.1,347.1" fill="#008080" stroke="#008080" stroke-width="2.0" stroke-linejoin="round"/><polygon points="976.0,342.0 972.3,348.9 979.7,348.9" fill="#008080" stroke="#008080" stroke-width="2.0" stroke-linejoin="round"/><polygon points="1036.6,342.0 1032.9,348.9 1040.3,348.9" fill="#008080" stroke="#008080" stroke-width="2.0" stroke-linejoin="round"/><polygon points="1097.2,338.5 1093.5,345.3 1100.9,345.3" fill="#008080" stroke="#008080" stroke-width="2.0" stroke-linejoin="round"/><polygon points="1157.8,335.3 1154.1,342.1 1161.5,342.1" fill="#008080" stroke="#008080" stroke-width="2.0" stroke-linejoin="round"/>
<polyline points="673.0,313.2 733.6,327.4 794.2,339.9 854.8,347.2 915.4,351.5 976.0,353.3 1036.6,351.5 1097.2,349.0 1157.8,344.2" fill="none" stroke="#228B22" stroke-width="4.2" stroke-linejoin="round" stroke-linecap="round"/>
<polygon points="733.6,332.0 729.9,325.2 737.3,325.2" fill="#228B22" stroke="#228B22" stroke-width="2.0" stroke-linejoin="round"/><polygon points="794.2,344.4 790.5,337.6 797.9,337.6" fill="#228B22" stroke="#228B22" stroke-width="2.0" stroke-linejoin="round"/><polygon points="854.8,351.7 851.1,344.9 858.5,344.9" fill="#228B22" stroke="#228B22" stroke-width="2.0" stroke-linejoin="round"/><polygon points="915.4,356.1 911.7,349.2 919.1,349.2" fill="#228B22" stroke="#228B22" stroke-width="2.0" stroke-linejoin="round"/><polygon points="976.0,357.8 972.3,351.0 979.7,351.0" fill="#228B22" stroke="#228B22" stroke-width="2.0" stroke-linejoin="round"/><polygon points="1036.6,356.1 1032.9,349.2 1040.3,349.2" fill="#228B22" stroke="#228B22" stroke-width="2.0" stroke-linejoin="round"/><polygon points="1097.2,353.5 1093.5,346.7 1100.9,346.7" fill="#228B22" stroke="#228B22" stroke-width="2.0" stroke-linejoin="round"/><polygon points="1157.8,348.8 1154.1,341.9 1161.5,341.9" fill="#228B22" stroke="#228B22" stroke-width="2.0" stroke-linejoin="round"/>
</g>
<rect x="703.3" y="87.2" width="454.5" height="296.1" fill="none" stroke="#000" stroke-width="4"/>
<path d="M854.8 383.3v-6M1006.3 383.3v-6M703.3 284.6h6M703.3 185.9h6" stroke="#000" stroke-width="3.6" stroke-linecap="round" fill="none"/>
<text x="669.6" y="464.0" font-size="64" textLength="65.8" lengthAdjust="spacing">35</text>
<text x="822.0" y="464.0" font-size="64" textLength="65.8" lengthAdjust="spacing">40</text>
<text x="973.5" y="464.0" font-size="64" textLength="65.8" lengthAdjust="spacing">45</text>
<text x="1123.8" y="464.0" font-size="64" textLength="65.7" lengthAdjust="spacing">50</text>
<text x="592.6" y="104.8" font-size="64" textLength="84.9" lengthAdjust="spacing">2.5</text>
<text x="592.6" y="204.8" font-size="64" textLength="84.9" lengthAdjust="spacing">2.0</text>
<text x="592.8" y="304.0" font-size="64" textLength="84.7" lengthAdjust="spacing">1.5</text>
<text x="592.8" y="404.3" font-size="64" textLength="84.7" lengthAdjust="spacing">1.0</text>
<text x="609.0" y="552.6" font-size="66" textLength="196.0" lengthAdjust="spacing">阵列中</text><text x="810.4" y="552.6" font-size="70.5" textLength="45.1" lengthAdjust="spacingAndGlyphs">P</text><text x="856.6" y="552.6" font-size="70.5" textLength="49.7" lengthAdjust="spacingAndGlyphs">D</text><text x="906.4" y="552.6" font-size="66" textLength="199.0" lengthAdjust="spacing">的倾角</text><text x="1105.2" y="552.6" font-size="68" class="it">α</text><text x="1172.9" y="552.6" font-size="73">(</text><text x="1195.5" y="552.6" font-size="69">°</text><text x="1227.9" y="552.6" font-size="73">)</text>
<g transform="translate(484 367) rotate(-90)"><text x="-1.3" y="0.0" font-size="66" textLength="267.1" lengthAdjust="spacing">平均估算</text></g>
<g transform="translate(564.0 414.0) rotate(-90)"><text x="-0.9" y="0.0" font-size="66" textLength="130.0" lengthAdjust="spacing">误差</text><text x="152.8" y="0.0" font-size="73">(</text><text x="181.5" y="8.5" font-size="76">×</text><text x="229.8" y="0.0" font-size="66">10</text><text x="296.9" y="-26.4" font-size="33">−</text><text x="316.8" y="-23.0" font-size="39">2</text><text x="337.0" y="0.0" font-size="73">)</text></g>
</g>
<g id="legendL">
<line x1="1246.5" y1="102.6" x2="1330" y2="102.6" stroke="#00008B" stroke-width="3.8" stroke-linecap="round"/>
<polygon points="1275.3,89.2 1300.3,89.2 1300.3,116.0 1275.3,116.0" fill="#fff" stroke="#00008B" stroke-width="4.0" stroke-linejoin="round"/><polygon points="1275.3,89.2 1300.3,89.2 1300.3,105.1 1275.3,105.1" fill="#00008B" />
<text x="1347.8" y="121.8" font-size="66.5">3</text>
<text x="1381.0" y="121.8" font-size="70.5" textLength="44.9" lengthAdjust="spacingAndGlyphs">P</text><text x="1427.0" y="121.8" font-size="70.5" textLength="49.5" lengthAdjust="spacingAndGlyphs">D</text>
<text x="1477.4" y="121.8" font-size="66" textLength="131.2" lengthAdjust="spacing">阵列</text>
<text x="1609.6" y="116.2" font-size="40" textLength="21.7" lengthAdjust="spacingAndGlyphs">-</text>
<text x="1634.2" y="121.8" font-size="66">奇异值分解</text>
<line x1="1246.5" y1="179.5" x2="1330" y2="179.5" stroke="#FF7F50" stroke-width="3.8" stroke-linecap="round"/>
<ellipse cx="1287.8" cy="179.5" rx="14.2" ry="15.2" fill="#fff" stroke="#FF7F50" stroke-width="4.0"/><path d="M1273.7 181.5A14.2 15.2 0 1 1 1301.9 181.5Z" fill="#FF7F50"/>
<text x="1347.8" y="198.7" font-size="66.5">4</text>
<text x="1381.0" y="198.7" font-size="70.5" textLength="44.9" lengthAdjust="spacingAndGlyphs">P</text><text x="1427.0" y="198.7" font-size="70.5" textLength="49.5" lengthAdjust="spacingAndGlyphs">D</text>
<text x="1477.4" y="198.7" font-size="66" textLength="131.2" lengthAdjust="spacing">阵列</text>
<text x="1609.6" y="193.1" font-size="40" textLength="21.7" lengthAdjust="spacingAndGlyphs">-</text>
<text x="1634.2" y="198.7" font-size="66">奇异值分解</text>
<line x1="1246.5" y1="261.6" x2="1330" y2="261.6" stroke="#008080" stroke-width="3.8" stroke-linecap="round"/>
<polygon points="1287.8,241.0 1271.1,271.9 1304.5,271.9" fill="#fff" stroke="#008080" stroke-width="4.0" stroke-linejoin="round"/><polygon points="1287.8,241.0 1275.4,263.9 1300.2,263.9" fill="#008080" />
<text x="1347.8" y="275.6" font-size="66.5">5</text>
<text x="1381.0" y="275.6" font-size="70.5" textLength="44.9" lengthAdjust="spacingAndGlyphs">P</text><text x="1427.0" y="275.6" font-size="70.5" textLength="49.5" lengthAdjust="spacingAndGlyphs">D</text>
<text x="1477.4" y="275.6" font-size="66" textLength="131.2" lengthAdjust="spacing">阵列</text>
<text x="1609.6" y="270.0" font-size="40" textLength="21.7" lengthAdjust="spacingAndGlyphs">-</text>
<text x="1634.2" y="275.6" font-size="66">奇异值分解</text>
<line x1="1246.5" y1="328.1" x2="1330" y2="328.1" stroke="#228B22" stroke-width="3.8" stroke-linecap="round"/>
<polygon points="1287.8,348.7 1271.1,317.8 1304.5,317.8" fill="#fff" stroke="#228B22" stroke-width="4.0" stroke-linejoin="round"/><polygon points="1271.1,317.8 1304.5,317.8 1298.5,328.9 1277.1,328.9" fill="#228B22" />
<text x="1347.8" y="352.5" font-size="66.5">6</text>
<text x="1381.0" y="352.5" font-size="70.5" textLength="44.9" lengthAdjust="spacingAndGlyphs">P</text><text x="1427.0" y="352.5" font-size="70.5" textLength="49.5" lengthAdjust="spacingAndGlyphs">D</text>
<text x="1477.4" y="352.5" font-size="66" textLength="131.2" lengthAdjust="spacing">阵列</text>
<text x="1609.6" y="346.9" font-size="40" textLength="21.7" lengthAdjust="spacingAndGlyphs">-</text>
<text x="1634.2" y="352.5" font-size="66">奇异值分解</text>
<line x1="1246.5" y1="410.2" x2="1330" y2="410.2" stroke="#00008B" stroke-width="3.8" stroke-linecap="round"/>
<polygon points="1275.3,396.8 1300.3,396.8 1300.3,423.6 1275.3,423.6" fill="#00008B" stroke="#00008B" stroke-width="3.0" stroke-linejoin="round"/>
<text x="1347.8" y="429.4" font-size="66.5">3</text>
<text x="1381.0" y="429.4" font-size="70.5" textLength="44.9" lengthAdjust="spacingAndGlyphs">P</text><text x="1427.0" y="429.4" font-size="70.5" textLength="49.5" lengthAdjust="spacingAndGlyphs">D</text>
<text x="1477.4" y="429.4" font-size="66" textLength="131.2" lengthAdjust="spacing">阵列</text>
<text x="1609.6" y="423.8" font-size="40" textLength="21.7" lengthAdjust="spacingAndGlyphs">-</text>
<text x="1632.8" y="429.4" font-size="66">本文方法</text>
<line x1="1246.5" y1="487.1" x2="1330" y2="487.1" stroke="#FF7F50" stroke-width="3.8" stroke-linecap="round"/>
<ellipse cx="1287.8" cy="487.1" rx="14.2" ry="15.2" fill="#FF7F50" stroke="#FF7F50" stroke-width="3.0"/>
<text x="1347.8" y="506.3" font-size="66.5">4</text>
<text x="1381.0" y="506.3" font-size="70.5" textLength="44.9" lengthAdjust="spacingAndGlyphs">P</text><text x="1427.0" y="506.3" font-size="70.5" textLength="49.5" lengthAdjust="spacingAndGlyphs">D</text>
<text x="1477.4" y="506.3" font-size="66" textLength="131.2" lengthAdjust="spacing">阵列</text>
<text x="1609.6" y="500.7" font-size="40" textLength="21.7" lengthAdjust="spacingAndGlyphs">-</text>
<text x="1632.8" y="506.3" font-size="66">本文方法</text>
<line x1="1246.5" y1="569.2" x2="1330" y2="569.2" stroke="#008080" stroke-width="3.8" stroke-linecap="round"/>
<polygon points="1287.8,548.6 1271.1,579.5 1304.5,579.5" fill="#008080" stroke="#008080" stroke-width="3.0" stroke-linejoin="round"/>
<text x="1347.8" y="583.2" font-size="66.5">5</text>
<text x="1381.0" y="583.2" font-size="70.5" textLength="44.9" lengthAdjust="spacingAndGlyphs">P</text><text x="1427.0" y="583.2" font-size="70.5" textLength="49.5" lengthAdjust="spacingAndGlyphs">D</text>
<text x="1477.4" y="583.2" font-size="66" textLength="131.2" lengthAdjust="spacing">阵列</text>
<text x="1609.6" y="577.6" font-size="40" textLength="21.7" lengthAdjust="spacingAndGlyphs">-</text>
<text x="1632.8" y="583.2" font-size="66">本文方法</text>
<line x1="1246.5" y1="635.7" x2="1330" y2="635.7" stroke="#228B22" stroke-width="3.8" stroke-linecap="round"/>
<polygon points="1287.8,656.3 1271.1,625.4 1304.5,625.4" fill="#228B22" stroke="#228B22" stroke-width="3.0" stroke-linejoin="round"/>
<text x="1347.8" y="660.1" font-size="66.5">6</text>
<text x="1381.0" y="660.1" font-size="70.5" textLength="44.9" lengthAdjust="spacingAndGlyphs">P</text><text x="1427.0" y="660.1" font-size="70.5" textLength="49.5" lengthAdjust="spacingAndGlyphs">D</text>
<text x="1477.4" y="660.1" font-size="66" textLength="131.2" lengthAdjust="spacing">阵列</text>
<text x="1609.6" y="654.5" font-size="40" textLength="21.7" lengthAdjust="spacingAndGlyphs">-</text>
<text x="1632.8" y="660.1" font-size="66">本文方法</text>
</g>
<g id="right">
<polyline points="2438.5,88.0 2476.8,88.0 2515.0,88.0 2553.3,88.0 2591.6,88.0 2629.8,88.0 2668.1,88.0 2706.4,88.0 2744.7,88.0 2782.9,88.0 2821.2,88.0 2859.5,88.0 2897.7,88.0 2936.0,88.0 2974.3,88.0 3012.6,88.0 3050.8,88.0 3089.1,88.0 3127.4,88.0 3165.6,88.0 3203.9,88.0 3242.2,88.0 3280.4,88.0 3318.7,88.0 3357.0,88.0 3395.2,88.0 3433.5,88.0 3471.8,88.0 3510.1,88.0 3548.3,88.0 3586.6,88.0 3624.9,88.0 3663.1,88.0 3701.4,88.0 3739.7,88.0 3778.0,130.4 3816.2,229.1 3854.5,378.6 3892.8,567.6 3931.0,1036.9 3969.3,1117.6" fill="none" stroke="#1B9E77" stroke-width="3.5" stroke-linejoin="round" stroke-linecap="round"/>
<polygon points="2426.5,77.4 2450.5,77.4 2450.5,98.6 2426.5,98.6" fill="#1B9E77" stroke="#1B9E77" stroke-width="2.5" stroke-linejoin="round"/><polygon points="2464.8,77.4 2488.8,77.4 2488.8,98.6 2464.8,98.6" fill="#1B9E77" stroke="#1B9E77" stroke-width="2.5" stroke-linejoin="round"/><polygon points="2503.0,77.4 2527.0,77.4 2527.0,98.6 2503.0,98.6" fill="#1B9E77" stroke="#1B9E77" stroke-width="2.5" stroke-linejoin="round"/><polygon points="2541.3,77.4 2565.3,77.4 2565.3,98.6 2541.3,98.6" fill="#1B9E77" stroke="#1B9E77" stroke-width="2.5" stroke-linejoin="round"/><polygon points="2579.6,77.4 2603.6,77.4 2603.6,98.6 2579.6,98.6" fill="#1B9E77" stroke="#1B9E77" stroke-width="2.5" stroke-linejoin="round"/><polygon points="2617.8,77.4 2641.8,77.4 2641.8,98.6 2617.8,98.6" fill="#1B9E77" stroke="#1B9E77" stroke-width="2.5" stroke-linejoin="round"/><polygon points="2656.1,77.4 2680.1,77.4 2680.1,98.6 2656.1,98.6" fill="#1B9E77" stroke="#1B9E77" stroke-width="2.5" stroke-linejoin="round"/><polygon points="2694.4,77.4 2718.4,77.4 2718.4,98.6 2694.4,98.6" fill="#1B9E77" stroke="#1B9E77" stroke-width="2.5" stroke-linejoin="round"/><polygon points="2732.7,77.4 2756.7,77.4 2756.7,98.6 2732.7,98.6" fill="#1B9E77" stroke="#1B9E77" stroke-width="2.5" stroke-linejoin="round"/><polygon points="2770.9,77.4 2794.9,77.4 2794.9,98.6 2770.9,98.6" fill="#1B9E77" stroke="#1B9E77" stroke-width="2.5" stroke-linejoin="round"/><polygon points="2809.2,77.4 2833.2,77.4 2833.2,98.6 2809.2,98.6" fill="#1B9E77" stroke="#1B9E77" stroke-width="2.5" stroke-linejoin="round"/><polygon points="2847.5,77.4 2871.5,77.4 2871.5,98.6 2847.5,98.6" fill="#1B9E77" stroke="#1B9E77" stroke-width="2.5" stroke-linejoin="round"/><polygon points="2885.7,77.4 2909.7,77.4 2909.7,98.6 2885.7,98.6" fill="#1B9E77" stroke="#1B9E77" stroke-width="2.5" stroke-linejoin="round"/><polygon points="2924.0,77.4 2948.0,77.4 2948.0,98.6 2924.0,98.6" fill="#1B9E77" stroke="#1B9E77" stroke-width="2.5" stroke-linejoin="round"/><polygon points="2962.3,77.4 2986.3,77.4 2986.3,98.6 2962.3,98.6" fill="#1B9E77" stroke="#1B9E77" stroke-width="2.5" stroke-linejoin="round"/><polygon points="3000.6,77.4 3024.6,77.4 3024.6,98.6 3000.6,98.6" fill="#1B9E77" stroke="#1B9E77" stroke-width="2.5" stroke-linejoin="round"/><polygon points="3038.8,77.4 3062.8,77.4 3062.8,98.6 3038.8,98.6" fill="#1B9E77" stroke="#1B9E77" stroke-width="2.5" stroke-linejoin="round"/><polygon points="3077.1,77.4 3101.1,77.4 3101.1,98.6 3077.1,98.6" fill="#1B9E77" stroke="#1B9E77" stroke-width="2.5" stroke-linejoin="round"/><polygon points="3115.4,77.4 3139.4,77.4 3139.4,98.6 3115.4,98.6" fill="#1B9E77" stroke="#1B9E77" stroke-width="2.5" stroke-linejoin="round"/><polygon points="3153.6,77.4 3177.6,77.4 3177.6,98.6 3153.6,98.6" fill="#1B9E77" stroke="#1B9E77" stroke-width="2.5" stroke-linejoin="round"/><polygon points="3191.9,77.4 3215.9,77.4 3215.9,98.6 3191.9,98.6" fill="#1B9E77" stroke="#1B9E77" stroke-width="2.5" stroke-linejoin="round"/><polygon points="3230.2,77.4 3254.2,77.4 3254.2,98.6 3230.2,98.6" fill="#1B9E77" stroke="#1B9E77" stroke-width="2.5" stroke-linejoin="round"/><polygon points="3268.4,77.4 3292.4,77.4 3292.4,98.6 3268.4,98.6" fill="#1B9E77" stroke="#1B9E77" stroke-width="2.5" stroke-linejoin="round"/><polygon points="3306.7,77.4 3330.7,77.4 3330.7,98.6 3306.7,98.6" fill="#1B9E77" stroke="#1B9E77" stroke-width="2.5" stroke-linejoin="round"/><polygon points="3345.0,77.4 3369.0,77.4 3369.0,98.6 3345.0,98.6" fill="#1B9E77" stroke="#1B9E77" stroke-width="2.5" stroke-linejoin="round"/><polygon points="3383.2,77.4 3407.2,77.4 3407.2,98.6 3383.2,98.6" fill="#1B9E77" stroke="#1B9E77" stroke-width="2.5" stroke-linejoin="round"/><polygon points="3421.5,77.4 3445.5,77.4 3445.5,98.6 3421.5,98.6" fill="#1B9E77" stroke="#1B9E77" stroke-width="2.5" stroke-linejoin="round"/><polygon points="3459.8,77.4 3483.8,77.4 3483.8,98.6 3459.8,98.6" fill="#1B9E77" stroke="#1B9E77" stroke-width="2.5" stroke-linejoin="round"/><polygon points="3498.1,77.4 3522.1,77.4 3522.1,98.6 3498.1,98.6" fill="#1B9E77" stroke="#1B9E77" stroke-width="2.5" stroke-linejoin="round"/><polygon points="3536.3,77.4 3560.3,77.4 3560.3,98.6 3536.3,98.6" fill="#1B9E77" stroke="#1B9E77" stroke-width="2.5" stroke-linejoin="round"/><polygon points="3574.6,77.4 3598.6,77.4 3598.6,98.6 3574.6,98.6" fill="#1B9E77" stroke="#1B9E77" stroke-width="2.5" stroke-linejoin="round"/><polygon points="3612.9,77.4 3636.9,77.4 3636.9,98.6 3612.9,98.6" fill="#1B9E77" stroke="#1B9E77" stroke-width="2.5" stroke-linejoin="round"/><polygon points="3651.1,77.4 3675.1,77.4 3675.1,98.6 3651.1,98.6" fill="#1B9E77" stroke="#1B9E77" stroke-width="2.5" stroke-linejoin="round"/><polygon points="3689.4,77.4 3713.4,77.4 3713.4,98.6 3689.4,98.6" fill="#1B9E77" stroke="#1B9E77" stroke-width="2.5" stroke-linejoin="round"/><polygon points="3727.7,77.4 3751.7,77.4 3751.7,98.6 3727.7,98.6" fill="#1B9E77" stroke="#1B9E77" stroke-width="2.5" stroke-linejoin="round"/><polygon points="3766.0,119.9 3790.0,119.9 3790.0,141.0 3766.0,141.0" fill="#1B9E77" stroke="#1B9E77" stroke-width="2.5" stroke-linejoin="round"/><polygon points="3804.2,218.5 3828.2,218.5 3828.2,239.7 3804.2,239.7" fill="#1B9E77" stroke="#1B9E77" stroke-width="2.5" stroke-linejoin="round"/><polygon points="3842.5,368.1 3866.5,368.1 3866.5,389.2 3842.5,389.2" fill="#1B9E77" stroke="#1B9E77" stroke-width="2.5" stroke-linejoin="round"/><polygon points="3880.8,557.0 3904.8,557.0 3904.8,578.2 3880.8,578.2" fill="#1B9E77" stroke="#1B9E77" stroke-width="2.5" stroke-linejoin="round"/><polygon points="3919.0,1026.4 3943.0,1026.4 3943.0,1047.5 3919.0,1047.5" fill="#1B9E77" stroke="#1B9E77" stroke-width="2.5" stroke-linejoin="round"/><polygon points="3957.3,1107.0 3981.3,1107.0 3981.3,1128.1 3957.3,1128.1" fill="#1B9E77" stroke="#1B9E77" stroke-width="2.5" stroke-linejoin="round"/>
<polyline points="2438.5,88.0 2476.8,88.0 2515.0,88.0 2553.3,88.0 2591.6,88.0 2629.8,88.0 2668.1,88.0 2706.4,88.0 2744.7,88.0 2782.9,88.0 2821.2,88.0 2859.5,88.0 2897.7,88.0 2936.0,88.0 2974.3,88.0 3012.6,88.0 3050.8,88.0 3089.1,88.0 3127.4,88.0 3165.6,88.0 3203.9,88.0 3242.2,88.0 3280.4,88.0 3318.7,88.0 3357.0,88.0 3395.2,88.0 3433.5,88.0 3471.8,88.0 3510.1,88.0 3548.3,88.0 3586.6,88.0 3624.9,88.0 3663.1,88.0 3701.4,110.6 3739.7,208.2 3778.0,360.2 3816.2,555.3 3854.5,709.3 3892.8,830.5 3931.0,1094.5 3969.3,1117.6" fill="none" stroke="#D95F02" stroke-width="3.5" stroke-linejoin="round" stroke-linecap="round"/>
<ellipse cx="2438.5" cy="88.0" rx="13.8" ry="12.1" fill="#D95F02" stroke="#D95F02" stroke-width="2.5"/><ellipse cx="2476.8" cy="88.0" rx="13.8" ry="12.1" fill="#D95F02" stroke="#D95F02" stroke-width="2.5"/><ellipse cx="2515.0" cy="88.0" rx="13.8" ry="12.1" fill="#D95F02" stroke="#D95F02" stroke-width="2.5"/><ellipse cx="2553.3" cy="88.0" rx="13.8" ry="12.1" fill="#D95F02" stroke="#D95F02" stroke-width="2.5"/><ellipse cx="2591.6" cy="88.0" rx="13.8" ry="12.1" fill="#D95F02" stroke="#D95F02" stroke-width="2.5"/><ellipse cx="2629.8" cy="88.0" rx="13.8" ry="12.1" fill="#D95F02" stroke="#D95F02" stroke-width="2.5"/><ellipse cx="2668.1" cy="88.0" rx="13.8" ry="12.1" fill="#D95F02" stroke="#D95F02" stroke-width="2.5"/><ellipse cx="2706.4" cy="88.0" rx="13.8" ry="12.1" fill="#D95F02" stroke="#D95F02" stroke-width="2.5"/><ellipse cx="2744.7" cy="88.0" rx="13.8" ry="12.1" fill="#D95F02" stroke="#D95F02" stroke-width="2.5"/><ellipse cx="2782.9" cy="88.0" rx="13.8" ry="12.1" fill="#D95F02" stroke="#D95F02" stroke-width="2.5"/><ellipse cx="2821.2" cy="88.0" rx="13.8" ry="12.1" fill="#D95F02" stroke="#D95F02" stroke-width="2.5"/><ellipse cx="2859.5" cy="88.0" rx="13.8" ry="12.1" fill="#D95F02" stroke="#D95F02" stroke-width="2.5"/><ellipse cx="2897.7" cy="88.0" rx="13.8" ry="12.1" fill="#D95F02" stroke="#D95F02" stroke-width="2.5"/><ellipse cx="2936.0" cy="88.0" rx="13.8" ry="12.1" fill="#D95F02" stroke="#D95F02" stroke-width="2.5"/><ellipse cx="2974.3" cy="88.0" rx="13.8" ry="12.1" fill="#D95F02" stroke="#D95F02" stroke-width="2.5"/><ellipse cx="3012.6" cy="88.0" rx="13.8" ry="12.1" fill="#D95F02" stroke="#D95F02" stroke-width="2.5"/><ellipse cx="3050.8" cy="88.0" rx="13.8" ry="12.1" fill="#D95F02" stroke="#D95F02" stroke-width="2.5"/><ellipse cx="3089.1" cy="88.0" rx="13.8" ry="12.1" fill="#D95F02" stroke="#D95F02" stroke-width="2.5"/><ellipse cx="3127.4" cy="88.0" rx="13.8" ry="12.1" fill="#D95F02" stroke="#D95F02" stroke-width="2.5"/><ellipse cx="3165.6" cy="88.0" rx="13.8" ry="12.1" fill="#D95F02" stroke="#D95F02" stroke-width="2.5"/><ellipse cx="3203.9" cy="88.0" rx="13.8" ry="12.1" fill="#D95F02" stroke="#D95F02" stroke-width="2.5"/><ellipse cx="3242.2" cy="88.0" rx="13.8" ry="12.1" fill="#D95F02" stroke="#D95F02" stroke-width="2.5"/><ellipse cx="3280.4" cy="88.0" rx="13.8" ry="12.1" fill="#D95F02" stroke="#D95F02" stroke-width="2.5"/><ellipse cx="3318.7" cy="88.0" rx="13.8" ry="12.1" fill="#D95F02" stroke="#D95F02" stroke-width="2.5"/><ellipse cx="3357.0" cy="88.0" rx="13.8" ry="12.1" fill="#D95F02" stroke="#D95F02" stroke-width="2.5"/><ellipse cx="3395.2" cy="88.0" rx="13.8" ry="12.1" fill="#D95F02" stroke="#D95F02" stroke-width="2.5"/><ellipse cx="3433.5" cy="88.0" rx="13.8" ry="12.1" fill="#D95F02" stroke="#D95F02" stroke-width="2.5"/><ellipse cx="3471.8" cy="88.0" rx="13.8" ry="12.1" fill="#D95F02" stroke="#D95F02" stroke-width="2.5"/><ellipse cx="3510.1" cy="88.0" rx="13.8" ry="12.1" fill="#D95F02" stroke="#D95F02" stroke-width="2.5"/><ellipse cx="3548.3" cy="88.0" rx="13.8" ry="12.1" fill="#D95F02" stroke="#D95F02" stroke-width="2.5"/><ellipse cx="3586.6" cy="88.0" rx="13.8" ry="12.1" fill="#D95F02" stroke="#D95F02" stroke-width="2.5"/><ellipse cx="3624.9" cy="88.0" rx="13.8" ry="12.1" fill="#D95F02" stroke="#D95F02" stroke-width="2.5"/><ellipse cx="3663.1" cy="88.0" rx="13.8" ry="12.1" fill="#D95F02" stroke="#D95F02" stroke-width="2.5"/><ellipse cx="3701.4" cy="110.6" rx="13.8" ry="12.1" fill="#D95F02" stroke="#D95F02" stroke-width="2.5"/><ellipse cx="3739.7" cy="208.2" rx="13.8" ry="12.1" fill="#D95F02" stroke="#D95F02" stroke-width="2.5"/><ellipse cx="3778.0" cy="360.2" rx="13.8" ry="12.1" fill="#D95F02" stroke="#D95F02" stroke-width="2.5"/><ellipse cx="3816.2" cy="555.3" rx="13.8" ry="12.1" fill="#D95F02" stroke="#D95F02" stroke-width="2.5"/><ellipse cx="3854.5" cy="709.3" rx="13.8" ry="12.1" fill="#D95F02" stroke="#D95F02" stroke-width="2.5"/><ellipse cx="3892.8" cy="830.5" rx="13.8" ry="12.1" fill="#D95F02" stroke="#D95F02" stroke-width="2.5"/><ellipse cx="3931.0" cy="1094.5" rx="13.8" ry="12.1" fill="#D95F02" stroke="#D95F02" stroke-width="2.5"/><ellipse cx="3969.3" cy="1117.6" rx="13.8" ry="12.1" fill="#D95F02" stroke="#D95F02" stroke-width="2.5"/>
<polyline points="2438.5,88.0 2476.8,88.0 2515.0,88.0 2553.3,88.0 2591.6,88.0 2629.8,88.0 2668.1,88.0 2706.4,88.0 2744.7,88.0 2782.9,88.0 2821.2,88.0 2859.5,88.0 2897.7,88.0 2936.0,88.0 2974.3,88.0 3012.6,88.0 3050.8,88.0 3089.1,88.0 3127.4,88.0 3165.6,88.0 3203.9,88.0 3242.2,88.0 3280.4,88.0 3318.7,88.0 3357.0,88.0 3395.2,88.0 3433.5,88.0 3471.8,88.0 3510.1,88.0 3548.3,88.0 3586.6,88.0 3624.9,104.4 3663.1,198.9 3701.4,375.6 3739.7,591.2 3778.0,747.3 3816.2,863.4 3854.5,947.6 3892.8,1012.3 3931.0,1117.6 3969.3,1117.6" fill="none" stroke="#7570B3" stroke-width="3.5" stroke-linejoin="round" stroke-linecap="round"/>
<polygon points="2438.5,72.1 2422.9,95.9 2454.1,95.9" fill="#7570B3" stroke="#7570B3" stroke-width="2.5" stroke-linejoin="round"/><polygon points="2476.8,72.1 2461.2,95.9 2492.4,95.9" fill="#7570B3" stroke="#7570B3" stroke-width="2.5" stroke-linejoin="round"/><polygon points="2515.0,72.1 2499.4,95.9 2530.6,95.9" fill="#7570B3" stroke="#7570B3" stroke-width="2.5" stroke-linejoin="round"/><polygon points="2553.3,72.1 2537.7,95.9 2568.9,95.9" fill="#7570B3" stroke="#7570B3" stroke-width="2.5" stroke-linejoin="round"/><polygon points="2591.6,72.1 2576.0,95.9 2607.2,95.9" fill="#7570B3" stroke="#7570B3" stroke-width="2.5" stroke-linejoin="round"/><polygon points="2629.8,72.1 2614.2,95.9 2645.4,95.9" fill="#7570B3" stroke="#7570B3" stroke-width="2.5" stroke-linejoin="round"/><polygon points="2668.1,72.1 2652.5,95.9 2683.7,95.9" fill="#7570B3" stroke="#7570B3" stroke-width="2.5" stroke-linejoin="round"/><polygon points="2706.4,72.1 2690.8,95.9 2722.0,95.9" fill="#7570B3" stroke="#7570B3" stroke-width="2.5" stroke-linejoin="round"/><polygon points="2744.7,72.1 2729.1,95.9 2760.3,95.9" fill="#7570B3" stroke="#7570B3" stroke-width="2.5" stroke-linejoin="round"/><polygon points="2782.9,72.1 2767.3,95.9 2798.5,95.9" fill="#7570B3" stroke="#7570B3" stroke-width="2.5" stroke-linejoin="round"/><polygon points="2821.2,72.1 2805.6,95.9 2836.8,95.9" fill="#7570B3" stroke="#7570B3" stroke-width="2.5" stroke-linejoin="round"/><polygon points="2859.5,72.1 2843.9,95.9 2875.1,95.9" fill="#7570B3" stroke="#7570B3" stroke-width="2.5" stroke-linejoin="round"/><polygon points="2897.7,72.1 2882.1,95.9 2913.3,95.9" fill="#7570B3" stroke="#7570B3" stroke-width="2.5" stroke-linejoin="round"/><polygon points="2936.0,72.1 2920.4,95.9 2951.6,95.9" fill="#7570B3" stroke="#7570B3" stroke-width="2.5" stroke-linejoin="round"/><polygon points="2974.3,72.1 2958.7,95.9 2989.9,95.9" fill="#7570B3" stroke="#7570B3" stroke-width="2.5" stroke-linejoin="round"/><polygon points="3012.6,72.1 2997.0,95.9 3028.2,95.9" fill="#7570B3" stroke="#7570B3" stroke-width="2.5" stroke-linejoin="round"/><polygon points="3050.8,72.1 3035.2,95.9 3066.4,95.9" fill="#7570B3" stroke="#7570B3" stroke-width="2.5" stroke-linejoin="round"/><polygon points="3089.1,72.1 3073.5,95.9 3104.7,95.9" fill="#7570B3" stroke="#7570B3" stroke-width="2.5" stroke-linejoin="round"/><polygon points="3127.4,72.1 3111.8,95.9 3143.0,95.9" fill="#7570B3" stroke="#7570B3" stroke-width="2.5" stroke-linejoin="round"/><polygon points="3165.6,72.1 3150.0,95.9 3181.2,95.9" fill="#7570B3" stroke="#7570B3" stroke-width="2.5" stroke-linejoin="round"/><polygon points="3203.9,72.1 3188.3,95.9 3219.5,95.9" fill="#7570B3" stroke="#7570B3" stroke-width="2.5" stroke-linejoin="round"/><polygon points="3242.2,72.1 3226.6,95.9 3257.8,95.9" fill="#7570B3" stroke="#7570B3" stroke-width="2.5" stroke-linejoin="round"/><polygon points="3280.4,72.1 3264.8,95.9 3296.0,95.9" fill="#7570B3" stroke="#7570B3" stroke-width="2.5" stroke-linejoin="round"/><polygon points="3318.7,72.1 3303.1,95.9 3334.3,95.9" fill="#7570B3" stroke="#7570B3" stroke-width="2.5" stroke-linejoin="round"/><polygon points="3357.0,72.1 3341.4,95.9 3372.6,95.9" fill="#7570B3" stroke="#7570B3" stroke-width="2.5" stroke-linejoin="round"/><polygon points="3395.2,72.1 3379.7,95.9 3410.8,95.9" fill="#7570B3" stroke="#7570B3" stroke-width="2.5" stroke-linejoin="round"/><polygon points="3433.5,72.1 3417.9,95.9 3449.1,95.9" fill="#7570B3" stroke="#7570B3" stroke-width="2.5" stroke-linejoin="round"/><polygon points="3471.8,72.1 3456.2,95.9 3487.4,95.9" fill="#7570B3" stroke="#7570B3" stroke-width="2.5" stroke-linejoin="round"/><polygon points="3510.1,72.1 3494.5,95.9 3525.7,95.9" fill="#7570B3" stroke="#7570B3" stroke-width="2.5" stroke-linejoin="round"/><polygon points="3548.3,72.1 3532.7,95.9 3563.9,95.9" fill="#7570B3" stroke="#7570B3" stroke-width="2.5" stroke-linejoin="round"/><polygon points="3586.6,72.1 3571.0,95.9 3602.2,95.9" fill="#7570B3" stroke="#7570B3" stroke-width="2.5" stroke-linejoin="round"/><polygon points="3624.9,88.6 3609.3,112.4 3640.5,112.4" fill="#7570B3" stroke="#7570B3" stroke-width="2.5" stroke-linejoin="round"/><polygon points="3663.1,183.1 3647.5,206.8 3678.7,206.8" fill="#7570B3" stroke="#7570B3" stroke-width="2.5" stroke-linejoin="round"/><polygon points="3701.4,359.7 3685.8,383.5 3717.0,383.5" fill="#7570B3" stroke="#7570B3" stroke-width="2.5" stroke-linejoin="round"/><polygon points="3739.7,575.4 3724.1,599.2 3755.3,599.2" fill="#7570B3" stroke="#7570B3" stroke-width="2.5" stroke-linejoin="round"/><polygon points="3778.0,731.5 3762.4,755.3 3793.6,755.3" fill="#7570B3" stroke="#7570B3" stroke-width="2.5" stroke-linejoin="round"/><polygon points="3816.2,847.5 3800.6,871.3 3831.8,871.3" fill="#7570B3" stroke="#7570B3" stroke-width="2.5" stroke-linejoin="round"/><polygon points="3854.5,931.7 3838.9,955.5 3870.1,955.5" fill="#7570B3" stroke="#7570B3" stroke-width="2.5" stroke-linejoin="round"/><polygon points="3892.8,996.4 3877.2,1020.2 3908.4,1020.2" fill="#7570B3" stroke="#7570B3" stroke-width="2.5" stroke-linejoin="round"/><polygon points="3931.0,1101.7 3915.4,1125.5 3946.6,1125.5" fill="#7570B3" stroke="#7570B3" stroke-width="2.5" stroke-linejoin="round"/><polygon points="3969.3,1101.7 3953.7,1125.5 3984.9,1125.5" fill="#7570B3" stroke="#7570B3" stroke-width="2.5" stroke-linejoin="round"/>
<polyline points="2438.5,88.0 2476.8,88.0 2515.0,88.0 2553.3,88.0 2591.6,88.0 2629.8,88.0 2668.1,88.0 2706.4,88.0 2744.7,88.0 2782.9,88.0 2821.2,88.0 2859.5,88.0 2897.7,88.0 2936.0,88.0 2974.3,88.0 3012.6,88.0 3050.8,88.0 3089.1,88.0 3127.4,88.0 3165.6,88.0 3203.9,88.0 3242.2,88.0 3280.4,88.0 3318.7,88.0 3357.0,88.0 3395.2,88.0 3433.5,88.0 3471.8,88.0 3510.1,88.0 3548.3,119.8 3586.6,247.2 3624.9,476.2 3663.1,677.5 3701.4,817.2 3739.7,926.0 3778.0,1000.0 3816.2,1050.3 3854.5,1084.2 3892.8,1104.7 3931.0,1117.6 3969.3,1117.6" fill="none" stroke="#E7298A" stroke-width="3.5" stroke-linejoin="round" stroke-linecap="round"/>
<polygon points="2438.5,103.9 2422.9,80.1 2454.1,80.1" fill="#E7298A" stroke="#E7298A" stroke-width="2.5" stroke-linejoin="round"/><polygon points="2476.8,103.9 2461.2,80.1 2492.4,80.1" fill="#E7298A" stroke="#E7298A" stroke-width="2.5" stroke-linejoin="round"/><polygon points="2515.0,103.9 2499.4,80.1 2530.6,80.1" fill="#E7298A" stroke="#E7298A" stroke-width="2.5" stroke-linejoin="round"/><polygon points="2553.3,103.9 2537.7,80.1 2568.9,80.1" fill="#E7298A" stroke="#E7298A" stroke-width="2.5" stroke-linejoin="round"/><polygon points="2591.6,103.9 2576.0,80.1 2607.2,80.1" fill="#E7298A" stroke="#E7298A" stroke-width="2.5" stroke-linejoin="round"/><polygon points="2629.8,103.9 2614.2,80.1 2645.4,80.1" fill="#E7298A" stroke="#E7298A" stroke-width="2.5" stroke-linejoin="round"/><polygon points="2668.1,103.9 2652.5,80.1 2683.7,80.1" fill="#E7298A" stroke="#E7298A" stroke-width="2.5" stroke-linejoin="round"/><polygon points="2706.4,103.9 2690.8,80.1 2722.0,80.1" fill="#E7298A" stroke="#E7298A" stroke-width="2.5" stroke-linejoin="round"/><polygon points="2744.7,103.9 2729.1,80.1 2760.3,80.1" fill="#E7298A" stroke="#E7298A" stroke-width="2.5" stroke-linejoin="round"/><polygon points="2782.9,103.9 2767.3,80.1 2798.5,80.1" fill="#E7298A" stroke="#E7298A" stroke-width="2.5" stroke-linejoin="round"/><polygon points="2821.2,103.9 2805.6,80.1 2836.8,80.1" fill="#E7298A" stroke="#E7298A" stroke-width="2.5" stroke-linejoin="round"/><polygon points="2859.5,103.9 2843.9,80.1 2875.1,80.1" fill="#E7298A" stroke="#E7298A" stroke-width="2.5" stroke-linejoin="round"/><polygon points="2897.7,103.9 2882.1,80.1 2913.3,80.1" fill="#E7298A" stroke="#E7298A" stroke-width="2.5" stroke-linejoin="round"/><polygon points="2936.0,103.9 2920.4,80.1 2951.6,80.1" fill="#E7298A" stroke="#E7298A" stroke-width="2.5" stroke-linejoin="round"/><polygon points="2974.3,103.9 2958.7,80.1 2989.9,80.1" fill="#E7298A" stroke="#E7298A" stroke-width="2.5" stroke-linejoin="round"/><polygon points="3012.6,103.9 2997.0,80.1 3028.2,80.1" fill="#E7298A" stroke="#E7298A" stroke-width="2.5" stroke-linejoin="round"/><polygon points="3050.8,103.9 3035.2,80.1 3066.4,80.1" fill="#E7298A" stroke="#E7298A" stroke-width="2.5" stroke-linejoin="round"/><polygon points="3089.1,103.9 3073.5,80.1 3104.7,80.1" fill="#E7298A" stroke="#E7298A" stroke-width="2.5" stroke-linejoin="round"/><polygon points="3127.4,103.9 3111.8,80.1 3143.0,80.1" fill="#E7298A" stroke="#E7298A" stroke-width="2.5" stroke-linejoin="round"/><polygon points="3165.6,103.9 3150.0,80.1 3181.2,80.1" fill="#E7298A" stroke="#E7298A" stroke-width="2.5" stroke-linejoin="round"/><polygon points="3203.9,103.9 3188.3,80.1 3219.5,80.1" fill="#E7298A" stroke="#E7298A" stroke-width="2.5" stroke-linejoin="round"/><polygon points="3242.2,103.9 3226.6,80.1 3257.8,80.1" fill="#E7298A" stroke="#E7298A" stroke-width="2.5" stroke-linejoin="round"/><polygon points="3280.4,103.9 3264.8,80.1 3296.0,80.1" fill="#E7298A" stroke="#E7298A" stroke-width="2.5" stroke-linejoin="round"/><polygon points="3318.7,103.9 3303.1,80.1 3334.3,80.1" fill="#E7298A" stroke="#E7298A" stroke-width="2.5" stroke-linejoin="round"/><polygon points="3357.0,103.9 3341.4,80.1 3372.6,80.1" fill="#E7298A" stroke="#E7298A" stroke-width="2.5" stroke-linejoin="round"/><polygon points="3395.2,103.9 3379.7,80.1 3410.8,80.1" fill="#E7298A" stroke="#E7298A" stroke-width="2.5" stroke-linejoin="round"/><polygon points="3433.5,103.9 3417.9,80.1 3449.1,80.1" fill="#E7298A" stroke="#E7298A" stroke-width="2.5" stroke-linejoin="round"/><polygon points="3471.8,103.9 3456.2,80.1 3487.4,80.1" fill="#E7298A" stroke="#E7298A" stroke-width="2.5" stroke-linejoin="round"/><polygon points="3510.1,103.9 3494.5,80.1 3525.7,80.1" fill="#E7298A" stroke="#E7298A" stroke-width="2.5" stroke-linejoin="round"/><polygon points="3548.3,135.7 3532.7,111.9 3563.9,111.9" fill="#E7298A" stroke="#E7298A" stroke-width="2.5" stroke-linejoin="round"/><polygon points="3586.6,263.0 3571.0,239.3 3602.2,239.3" fill="#E7298A" stroke="#E7298A" stroke-width="2.5" stroke-linejoin="round"/><polygon points="3624.9,492.1 3609.3,468.3 3640.5,468.3" fill="#E7298A" stroke="#E7298A" stroke-width="2.5" stroke-linejoin="round"/><polygon points="3663.1,693.3 3647.5,669.6 3678.7,669.6" fill="#E7298A" stroke="#E7298A" stroke-width="2.5" stroke-linejoin="round"/><polygon points="3701.4,833.0 3685.8,809.2 3717.0,809.2" fill="#E7298A" stroke="#E7298A" stroke-width="2.5" stroke-linejoin="round"/><polygon points="3739.7,941.9 3724.1,918.1 3755.3,918.1" fill="#E7298A" stroke="#E7298A" stroke-width="2.5" stroke-linejoin="round"/><polygon points="3778.0,1015.8 3762.4,992.1 3793.6,992.1" fill="#E7298A" stroke="#E7298A" stroke-width="2.5" stroke-linejoin="round"/><polygon points="3816.2,1066.2 3800.6,1042.4 3831.8,1042.4" fill="#E7298A" stroke="#E7298A" stroke-width="2.5" stroke-linejoin="round"/><polygon points="3854.5,1100.0 3838.9,1076.3 3870.1,1076.3" fill="#E7298A" stroke="#E7298A" stroke-width="2.5" stroke-linejoin="round"/><polygon points="3892.8,1120.6 3877.2,1096.8 3908.4,1096.8" fill="#E7298A" stroke="#E7298A" stroke-width="2.5" stroke-linejoin="round"/><polygon points="3931.0,1133.4 3915.4,1109.6 3946.6,1109.6" fill="#E7298A" stroke="#E7298A" stroke-width="2.5" stroke-linejoin="round"/><polygon points="3969.3,1133.4 3953.7,1109.6 3984.9,1109.6" fill="#E7298A" stroke="#E7298A" stroke-width="2.5" stroke-linejoin="round"/>
<polyline points="2438.5,88.0 2476.8,88.0 2515.0,88.0 2553.3,88.0 2591.6,88.0 2629.8,88.0 2668.1,88.0 2706.4,88.0 2744.7,88.0 2782.9,88.0 2821.2,88.0 2859.5,88.0 2897.7,88.0 2936.0,88.0 2974.3,88.0 3012.6,88.0 3050.8,88.0 3089.1,88.0 3127.4,88.0 3165.6,88.0 3203.9,88.0 3242.2,88.0 3280.4,88.0 3318.7,88.0 3357.0,88.0 3395.2,88.0 3433.5,88.0 3471.8,88.0 3510.1,88.0 3548.3,88.0 3586.6,132.2 3624.9,302.6 3701.4,758.6 3739.7,886.0 3778.0,980.5 3816.2,1040.0 3854.5,1083.2 3892.8,1102.7 3931.0,1117.6 3969.3,1117.6" fill="none" stroke="#66A61E" stroke-width="3.5" stroke-linejoin="round" stroke-linecap="round"/>
<polygon points="2438.5,73.2 2455.3,88.0 2438.5,102.8 2421.7,88.0" fill="#66A61E" stroke="#66A61E" stroke-width="2.5" stroke-linejoin="round"/><polygon points="2476.8,73.2 2493.6,88.0 2476.8,102.8 2460.0,88.0" fill="#66A61E" stroke="#66A61E" stroke-width="2.5" stroke-linejoin="round"/><polygon points="2515.0,73.2 2531.8,88.0 2515.0,102.8 2498.2,88.0" fill="#66A61E" stroke="#66A61E" stroke-width="2.5" stroke-linejoin="round"/><polygon points="2553.3,73.2 2570.1,88.0 2553.3,102.8 2536.5,88.0" fill="#66A61E" stroke="#66A61E" stroke-width="2.5" stroke-linejoin="round"/><polygon points="2591.6,73.2 2608.4,88.0 2591.6,102.8 2574.8,88.0" fill="#66A61E" stroke="#66A61E" stroke-width="2.5" stroke-linejoin="round"/><polygon points="2629.8,73.2 2646.7,88.0 2629.8,102.8 2613.0,88.0" fill="#66A61E" stroke="#66A61E" stroke-width="2.5" stroke-linejoin="round"/><polygon points="2668.1,73.2 2684.9,88.0 2668.1,102.8 2651.3,88.0" fill="#66A61E" stroke="#66A61E" stroke-width="2.5" stroke-linejoin="round"/><polygon points="2706.4,73.2 2723.2,88.0 2706.4,102.8 2689.6,88.0" fill="#66A61E" stroke="#66A61E" stroke-width="2.5" stroke-linejoin="round"/><polygon points="2744.7,73.2 2761.5,88.0 2744.7,102.8 2727.9,88.0" fill="#66A61E" stroke="#66A61E" stroke-width="2.5" stroke-linejoin="round"/><polygon points="2782.9,73.2 2799.7,88.0 2782.9,102.8 2766.1,88.0" fill="#66A61E" stroke="#66A61E" stroke-width="2.5" stroke-linejoin="round"/><polygon points="2821.2,73.2 2838.0,88.0 2821.2,102.8 2804.4,88.0" fill="#66A61E" stroke="#66A61E" stroke-width="2.5" stroke-linejoin="round"/><polygon points="2859.5,73.2 2876.3,88.0 2859.5,102.8 2842.7,88.0" fill="#66A61E" stroke="#66A61E" stroke-width="2.5" stroke-linejoin="round"/><polygon points="2897.7,73.2 2914.5,88.0 2897.7,102.8 2880.9,88.0" fill="#66A61E" stroke="#66A61E" stroke-width="2.5" stroke-linejoin="round"/><polygon points="2936.0,73.2 2952.8,88.0 2936.0,102.8 2919.2,88.0" fill="#66A61E" stroke="#66A61E" stroke-width="2.5" stroke-linejoin="round"/><polygon points="2974.3,73.2 2991.1,88.0 2974.3,102.8 2957.5,88.0" fill="#66A61E" stroke="#66A61E" stroke-width="2.5" stroke-linejoin="round"/><polygon points="3012.6,73.2 3029.4,88.0 3012.6,102.8 2995.8,88.0" fill="#66A61E" stroke="#66A61E" stroke-width="2.5" stroke-linejoin="round"/><polygon points="3050.8,73.2 3067.6,88.0 3050.8,102.8 3034.0,88.0" fill="#66A61E" stroke="#66A61E" stroke-width="2.5" stroke-linejoin="round"/><polygon points="3089.1,73.2 3105.9,88.0 3089.1,102.8 3072.3,88.0" fill="#66A61E" stroke="#66A61E" stroke-width="2.5" stroke-linejoin="round"/><polygon points="3127.4,73.2 3144.2,88.0 3127.4,102.8 3110.6,88.0" fill="#66A61E" stroke="#66A61E" stroke-width="2.5" stroke-linejoin="round"/><polygon points="3165.6,73.2 3182.4,88.0 3165.6,102.8 3148.8,88.0" fill="#66A61E" stroke="#66A61E" stroke-width="2.5" stroke-linejoin="round"/><polygon points="3203.9,73.2 3220.7,88.0 3203.9,102.8 3187.1,88.0" fill="#66A61E" stroke="#66A61E" stroke-width="2.5" stroke-linejoin="round"/><polygon points="3242.2,73.2 3259.0,88.0 3242.2,102.8 3225.4,88.0" fill="#66A61E" stroke="#66A61E" stroke-width="2.5" stroke-linejoin="round"/><polygon points="3280.4,73.2 3297.2,88.0 3280.4,102.8 3263.6,88.0" fill="#66A61E" stroke="#66A61E" stroke-width="2.5" stroke-linejoin="round"/><polygon points="3318.7,73.2 3335.5,88.0 3318.7,102.8 3301.9,88.0" fill="#66A61E" stroke="#66A61E" stroke-width="2.5" stroke-linejoin="round"/><polygon points="3357.0,73.2 3373.8,88.0 3357.0,102.8 3340.2,88.0" fill="#66A61E" stroke="#66A61E" stroke-width="2.5" stroke-linejoin="round"/><polygon points="3395.2,73.2 3412.1,88.0 3395.2,102.8 3378.4,88.0" fill="#66A61E" stroke="#66A61E" stroke-width="2.5" stroke-linejoin="round"/><polygon points="3433.5,73.2 3450.3,88.0 3433.5,102.8 3416.7,88.0" fill="#66A61E" stroke="#66A61E" stroke-width="2.5" stroke-linejoin="round"/><polygon points="3471.8,73.2 3488.6,88.0 3471.8,102.8 3455.0,88.0" fill="#66A61E" stroke="#66A61E" stroke-width="2.5" stroke-linejoin="round"/><polygon points="3510.1,73.2 3526.9,88.0 3510.1,102.8 3493.3,88.0" fill="#66A61E" stroke="#66A61E" stroke-width="2.5" stroke-linejoin="round"/><polygon points="3548.3,73.2 3565.1,88.0 3548.3,102.8 3531.5,88.0" fill="#66A61E" stroke="#66A61E" stroke-width="2.5" stroke-linejoin="round"/><polygon points="3586.6,117.4 3603.4,132.2 3586.6,146.9 3569.8,132.2" fill="#66A61E" stroke="#66A61E" stroke-width="2.5" stroke-linejoin="round"/><polygon points="3624.9,287.9 3641.7,302.6 3624.9,317.4 3608.1,302.6" fill="#66A61E" stroke="#66A61E" stroke-width="2.5" stroke-linejoin="round"/><polygon points="3701.4,743.8 3718.2,758.6 3701.4,773.4 3684.6,758.6" fill="#66A61E" stroke="#66A61E" stroke-width="2.5" stroke-linejoin="round"/><polygon points="3739.7,871.2 3756.5,886.0 3739.7,900.8 3722.9,886.0" fill="#66A61E" stroke="#66A61E" stroke-width="2.5" stroke-linejoin="round"/><polygon points="3778.0,965.7 3794.8,980.5 3778.0,995.2 3761.2,980.5" fill="#66A61E" stroke="#66A61E" stroke-width="2.5" stroke-linejoin="round"/><polygon points="3816.2,1025.2 3833.0,1040.0 3816.2,1054.8 3799.4,1040.0" fill="#66A61E" stroke="#66A61E" stroke-width="2.5" stroke-linejoin="round"/><polygon points="3854.5,1068.4 3871.3,1083.2 3854.5,1097.9 3837.7,1083.2" fill="#66A61E" stroke="#66A61E" stroke-width="2.5" stroke-linejoin="round"/><polygon points="3892.8,1087.9 3909.6,1102.7 3892.8,1117.5 3876.0,1102.7" fill="#66A61E" stroke="#66A61E" stroke-width="2.5" stroke-linejoin="round"/><polygon points="3931.0,1102.8 3947.8,1117.6 3931.0,1132.4 3914.2,1117.6" fill="#66A61E" stroke="#66A61E" stroke-width="2.5" stroke-linejoin="round"/><polygon points="3969.3,1102.8 3986.1,1117.6 3969.3,1132.4 3952.5,1117.6" fill="#66A61E" stroke="#66A61E" stroke-width="2.5" stroke-linejoin="round"/>
<polygon points="3813.2,542.6 3830.0,557.3 3813.2,572.1 3796.4,557.3" fill="#66A61E" stroke="#66A61E" stroke-width="2.5" stroke-linejoin="round"/>
<polyline points="2438.5,88.0 2476.8,88.0 2515.0,88.0 2553.3,88.0 2591.6,88.0 2629.8,88.0 2668.1,88.0 2706.4,88.0 2744.7,88.0 2782.9,88.0 2821.2,88.0 2859.5,88.0 2897.7,88.0 2936.0,88.0 2974.3,88.0 3012.6,88.0 3050.8,88.0 3089.1,88.0 3127.4,88.0 3165.6,88.0 3203.9,88.0 3242.2,88.0 3280.4,88.0 3318.7,88.0 3357.0,88.0 3395.2,88.0 3433.5,88.0 3471.8,88.0 3510.1,88.0 3548.3,130.4 3586.6,279.0 3624.9,511.1 3663.1,705.2 3701.4,839.8 3739.7,937.3 3778.0,1002.0 3816.2,1053.4 3854.5,1087.3 3892.8,1104.7 3931.0,1117.6 3969.3,1117.6" fill="none" stroke="#E6AB02" stroke-width="3.5" stroke-linejoin="round" stroke-linecap="round"/>
<polygon points="2438.5,74.5 2451.8,81.3 2451.8,94.7 2438.5,101.5 2425.2,94.7 2425.2,81.3" fill="#E6AB02" stroke="#E6AB02" stroke-width="2.5" stroke-linejoin="round"/><polygon points="2476.8,74.5 2490.0,81.3 2490.0,94.7 2476.8,101.5 2463.5,94.7 2463.5,81.3" fill="#E6AB02" stroke="#E6AB02" stroke-width="2.5" stroke-linejoin="round"/><polygon points="2515.0,74.5 2528.3,81.3 2528.3,94.7 2515.0,101.5 2501.8,94.7 2501.8,81.3" fill="#E6AB02" stroke="#E6AB02" stroke-width="2.5" stroke-linejoin="round"/><polygon points="2553.3,74.5 2566.6,81.3 2566.6,94.7 2553.3,101.5 2540.1,94.7 2540.1,81.3" fill="#E6AB02" stroke="#E6AB02" stroke-width="2.5" stroke-linejoin="round"/><polygon points="2591.6,74.5 2604.8,81.3 2604.8,94.7 2591.6,101.5 2578.3,94.7 2578.3,81.3" fill="#E6AB02" stroke="#E6AB02" stroke-width="2.5" stroke-linejoin="round"/><polygon points="2629.8,74.5 2643.1,81.3 2643.1,94.7 2629.8,101.5 2616.6,94.7 2616.6,81.3" fill="#E6AB02" stroke="#E6AB02" stroke-width="2.5" stroke-linejoin="round"/><polygon points="2668.1,74.5 2681.4,81.3 2681.4,94.7 2668.1,101.5 2654.9,94.7 2654.9,81.3" fill="#E6AB02" stroke="#E6AB02" stroke-width="2.5" stroke-linejoin="round"/><polygon points="2706.4,74.5 2719.6,81.3 2719.6,94.7 2706.4,101.5 2693.1,94.7 2693.1,81.3" fill="#E6AB02" stroke="#E6AB02" stroke-width="2.5" stroke-linejoin="round"/><polygon points="2744.7,74.5 2757.9,81.3 2757.9,94.7 2744.7,101.5 2731.4,94.7 2731.4,81.3" fill="#E6AB02" stroke="#E6AB02" stroke-width="2.5" stroke-linejoin="round"/><polygon points="2782.9,74.5 2796.2,81.3 2796.2,94.7 2782.9,101.5 2769.7,94.7 2769.7,81.3" fill="#E6AB02" stroke="#E6AB02" stroke-width="2.5" stroke-linejoin="round"/><polygon points="2821.2,74.5 2834.5,81.3 2834.5,94.7 2821.2,101.5 2807.9,94.7 2807.9,81.3" fill="#E6AB02" stroke="#E6AB02" stroke-width="2.5" stroke-linejoin="round"/><polygon points="2859.5,74.5 2872.7,81.3 2872.7,94.7 2859.5,101.5 2846.2,94.7 2846.2,81.3" fill="#E6AB02" stroke="#E6AB02" stroke-width="2.5" stroke-linejoin="round"/><polygon points="2897.7,74.5 2911.0,81.3 2911.0,94.7 2897.7,101.5 2884.5,94.7 2884.5,81.3" fill="#E6AB02" stroke="#E6AB02" stroke-width="2.5" stroke-linejoin="round"/><polygon points="2936.0,74.5 2949.3,81.3 2949.3,94.7 2936.0,101.5 2922.8,94.7 2922.8,81.3" fill="#E6AB02" stroke="#E6AB02" stroke-width="2.5" stroke-linejoin="round"/><polygon points="2974.3,74.5 2987.5,81.3 2987.5,94.7 2974.3,101.5 2961.0,94.7 2961.0,81.3" fill="#E6AB02" stroke="#E6AB02" stroke-width="2.5" stroke-linejoin="round"/><polygon points="3012.6,74.5 3025.8,81.3 3025.8,94.7 3012.6,101.5 2999.3,94.7 2999.3,81.3" fill="#E6AB02" stroke="#E6AB02" stroke-width="2.5" stroke-linejoin="round"/><polygon points="3050.8,74.5 3064.1,81.3 3064.1,94.7 3050.8,101.5 3037.6,94.7 3037.6,81.3" fill="#E6AB02" stroke="#E6AB02" stroke-width="2.5" stroke-linejoin="round"/><polygon points="3089.1,74.5 3102.3,81.3 3102.3,94.7 3089.1,101.5 3075.8,94.7 3075.8,81.3" fill="#E6AB02" stroke="#E6AB02" stroke-width="2.5" stroke-linejoin="round"/><polygon points="3127.4,74.5 3140.6,81.3 3140.6,94.7 3127.4,101.5 3114.1,94.7 3114.1,81.3" fill="#E6AB02" stroke="#E6AB02" stroke-width="2.5" stroke-linejoin="round"/><polygon points="3165.6,74.5 3178.9,81.3 3178.9,94.7 3165.6,101.5 3152.4,94.7 3152.4,81.3" fill="#E6AB02" stroke="#E6AB02" stroke-width="2.5" stroke-linejoin="round"/><polygon points="3203.9,74.5 3217.2,81.3 3217.2,94.7 3203.9,101.5 3190.6,94.7 3190.6,81.3" fill="#E6AB02" stroke="#E6AB02" stroke-width="2.5" stroke-linejoin="round"/><polygon points="3242.2,74.5 3255.4,81.3 3255.4,94.7 3242.2,101.5 3228.9,94.7 3228.9,81.3" fill="#E6AB02" stroke="#E6AB02" stroke-width="2.5" stroke-linejoin="round"/><polygon points="3280.4,74.5 3293.7,81.3 3293.7,94.7 3280.4,101.5 3267.2,94.7 3267.2,81.3" fill="#E6AB02" stroke="#E6AB02" stroke-width="2.5" stroke-linejoin="round"/><polygon points="3318.7,74.5 3332.0,81.3 3332.0,94.7 3318.7,101.5 3305.5,94.7 3305.5,81.3" fill="#E6AB02" stroke="#E6AB02" stroke-width="2.5" stroke-linejoin="round"/><polygon points="3357.0,74.5 3370.2,81.3 3370.2,94.7 3357.0,101.5 3343.7,94.7 3343.7,81.3" fill="#E6AB02" stroke="#E6AB02" stroke-width="2.5" stroke-linejoin="round"/><polygon points="3395.2,74.5 3408.5,81.3 3408.5,94.7 3395.2,101.5 3382.0,94.7 3382.0,81.3" fill="#E6AB02" stroke="#E6AB02" stroke-width="2.5" stroke-linejoin="round"/><polygon points="3433.5,74.5 3446.8,81.3 3446.8,94.7 3433.5,101.5 3420.3,94.7 3420.3,81.3" fill="#E6AB02" stroke="#E6AB02" stroke-width="2.5" stroke-linejoin="round"/><polygon points="3471.8,74.5 3485.0,81.3 3485.0,94.7 3471.8,101.5 3458.5,94.7 3458.5,81.3" fill="#E6AB02" stroke="#E6AB02" stroke-width="2.5" stroke-linejoin="round"/><polygon points="3510.1,74.5 3523.3,81.3 3523.3,94.7 3510.1,101.5 3496.8,94.7 3496.8,81.3" fill="#E6AB02" stroke="#E6AB02" stroke-width="2.5" stroke-linejoin="round"/><polygon points="3548.3,117.0 3561.6,123.7 3561.6,137.1 3548.3,143.9 3535.1,137.1 3535.1,123.7" fill="#E6AB02" stroke="#E6AB02" stroke-width="2.5" stroke-linejoin="round"/><polygon points="3586.6,265.6 3599.9,272.3 3599.9,285.8 3586.6,292.5 3573.3,285.8 3573.3,272.3" fill="#E6AB02" stroke="#E6AB02" stroke-width="2.5" stroke-linejoin="round"/><polygon points="3624.9,497.7 3638.1,504.4 3638.1,517.9 3624.9,524.6 3611.6,517.9 3611.6,504.4" fill="#E6AB02" stroke="#E6AB02" stroke-width="2.5" stroke-linejoin="round"/><polygon points="3663.1,691.8 3676.4,698.5 3676.4,712.0 3663.1,718.7 3649.9,712.0 3649.9,698.5" fill="#E6AB02" stroke="#E6AB02" stroke-width="2.5" stroke-linejoin="round"/><polygon points="3701.4,826.3 3714.7,833.0 3714.7,846.5 3701.4,853.2 3688.2,846.5 3688.2,833.0" fill="#E6AB02" stroke="#E6AB02" stroke-width="2.5" stroke-linejoin="round"/><polygon points="3739.7,923.9 3752.9,930.6 3752.9,944.1 3739.7,950.8 3726.4,944.1 3726.4,930.6" fill="#E6AB02" stroke="#E6AB02" stroke-width="2.5" stroke-linejoin="round"/><polygon points="3778.0,988.6 3791.2,995.3 3791.2,1008.8 3778.0,1015.5 3764.7,1008.8 3764.7,995.3" fill="#E6AB02" stroke="#E6AB02" stroke-width="2.5" stroke-linejoin="round"/><polygon points="3816.2,1039.9 3829.5,1046.6 3829.5,1060.1 3816.2,1066.8 3803.0,1060.1 3803.0,1046.6" fill="#E6AB02" stroke="#E6AB02" stroke-width="2.5" stroke-linejoin="round"/><polygon points="3854.5,1073.8 3867.7,1080.5 3867.7,1094.0 3854.5,1100.7 3841.2,1094.0 3841.2,1080.5" fill="#E6AB02" stroke="#E6AB02" stroke-width="2.5" stroke-linejoin="round"/><polygon points="3892.8,1091.3 3906.0,1098.0 3906.0,1111.5 3892.8,1118.2 3879.5,1111.5 3879.5,1098.0" fill="#E6AB02" stroke="#E6AB02" stroke-width="2.5" stroke-linejoin="round"/><polygon points="3931.0,1104.1 3944.3,1110.8 3944.3,1124.3 3931.0,1131.0 3917.8,1124.3 3917.8,1110.8" fill="#E6AB02" stroke="#E6AB02" stroke-width="2.5" stroke-linejoin="round"/><polygon points="3969.3,1104.1 3982.6,1110.8 3982.6,1124.3 3969.3,1131.0 3956.0,1124.3 3956.0,1110.8" fill="#E6AB02" stroke="#E6AB02" stroke-width="2.5" stroke-linejoin="round"/>
<polyline points="2438.5,88.0 2476.8,88.0 2515.0,88.0 2553.3,88.0 2591.6,88.0 2629.8,88.0 2668.1,88.0 2706.4,88.0 2744.7,88.0 2782.9,88.0 2821.2,88.0 2859.5,88.0 2897.7,88.0 2936.0,88.0 2974.3,88.0 3012.6,88.0 3050.8,88.0 3089.1,88.0 3127.4,88.0 3165.6,88.0 3203.9,88.0 3242.2,88.0 3280.4,88.0 3318.7,88.0 3357.0,88.0 3395.2,88.0 3433.5,88.0 3471.8,88.0 3510.1,158.9 3548.3,305.7 3586.6,512.2 3624.9,687.8 3663.1,810.0 3701.4,909.6 3739.7,978.4 3778.0,1027.2 3816.2,1056.5 3854.5,1089.7 3892.8,1103.7 3931.0,1117.6 3969.3,1117.6" fill="none" stroke="#A6761D" stroke-width="3.5" stroke-linejoin="round" stroke-linecap="round"/>
<polygon points="2438.5,76.0 2443.0,84.0 2453.0,85.3 2445.7,91.5 2447.4,100.2 2438.5,96.1 2429.6,100.2 2431.3,91.5 2424.0,85.3 2434.0,84.0" fill="#A6761D" stroke="#A6761D" stroke-width="3.6" stroke-linejoin="round"/><polygon points="2476.8,76.0 2481.2,84.0 2491.2,85.3 2484.0,91.5 2485.7,100.2 2476.8,96.1 2467.8,100.2 2469.5,91.5 2462.3,85.3 2472.3,84.0" fill="#A6761D" stroke="#A6761D" stroke-width="3.6" stroke-linejoin="round"/><polygon points="2515.0,76.0 2519.5,84.0 2529.5,85.3 2522.3,91.5 2524.0,100.2 2515.0,96.1 2506.1,100.2 2507.8,91.5 2500.6,85.3 2510.6,84.0" fill="#A6761D" stroke="#A6761D" stroke-width="3.6" stroke-linejoin="round"/><polygon points="2553.3,76.0 2557.8,84.0 2567.8,85.3 2560.5,91.5 2562.2,100.2 2553.3,96.1 2544.4,100.2 2546.1,91.5 2538.9,85.3 2548.8,84.0" fill="#A6761D" stroke="#A6761D" stroke-width="3.6" stroke-linejoin="round"/><polygon points="2591.6,76.0 2596.0,84.0 2606.0,85.3 2598.8,91.5 2600.5,100.2 2591.6,96.1 2582.6,100.2 2584.4,91.5 2577.1,85.3 2587.1,84.0" fill="#A6761D" stroke="#A6761D" stroke-width="3.6" stroke-linejoin="round"/><polygon points="2629.8,76.0 2634.3,84.0 2644.3,85.3 2637.1,91.5 2638.8,100.2 2629.8,96.1 2620.9,100.2 2622.6,91.5 2615.4,85.3 2625.4,84.0" fill="#A6761D" stroke="#A6761D" stroke-width="3.6" stroke-linejoin="round"/><polygon points="2668.1,76.0 2672.6,84.0 2682.6,85.3 2675.3,91.5 2677.1,100.2 2668.1,96.1 2659.2,100.2 2660.9,91.5 2653.7,85.3 2663.7,84.0" fill="#A6761D" stroke="#A6761D" stroke-width="3.6" stroke-linejoin="round"/><polygon points="2706.4,76.0 2710.9,84.0 2720.8,85.3 2713.6,91.5 2715.3,100.2 2706.4,96.1 2697.5,100.2 2699.2,91.5 2691.9,85.3 2701.9,84.0" fill="#A6761D" stroke="#A6761D" stroke-width="3.6" stroke-linejoin="round"/><polygon points="2744.7,76.0 2749.1,84.0 2759.1,85.3 2751.9,91.5 2753.6,100.2 2744.7,96.1 2735.7,100.2 2737.4,91.5 2730.2,85.3 2740.2,84.0" fill="#A6761D" stroke="#A6761D" stroke-width="3.6" stroke-linejoin="round"/><polygon points="2782.9,76.0 2787.4,84.0 2797.4,85.3 2790.2,91.5 2791.9,100.2 2782.9,96.1 2774.0,100.2 2775.7,91.5 2768.5,85.3 2778.5,84.0" fill="#A6761D" stroke="#A6761D" stroke-width="3.6" stroke-linejoin="round"/><polygon points="2821.2,76.0 2825.7,84.0 2835.7,85.3 2828.4,91.5 2830.1,100.2 2821.2,96.1 2812.3,100.2 2814.0,91.5 2806.7,85.3 2816.7,84.0" fill="#A6761D" stroke="#A6761D" stroke-width="3.6" stroke-linejoin="round"/><polygon points="2859.5,76.0 2863.9,84.0 2873.9,85.3 2866.7,91.5 2868.4,100.2 2859.5,96.1 2850.5,100.2 2852.2,91.5 2845.0,85.3 2855.0,84.0" fill="#A6761D" stroke="#A6761D" stroke-width="3.6" stroke-linejoin="round"/><polygon points="2897.7,76.0 2902.2,84.0 2912.2,85.3 2905.0,91.5 2906.7,100.2 2897.7,96.1 2888.8,100.2 2890.5,91.5 2883.3,85.3 2893.3,84.0" fill="#A6761D" stroke="#A6761D" stroke-width="3.6" stroke-linejoin="round"/><polygon points="2936.0,76.0 2940.5,84.0 2950.5,85.3 2943.2,91.5 2944.9,100.2 2936.0,96.1 2927.1,100.2 2928.8,91.5 2921.6,85.3 2931.5,84.0" fill="#A6761D" stroke="#A6761D" stroke-width="3.6" stroke-linejoin="round"/><polygon points="2974.3,76.0 2978.7,84.0 2988.7,85.3 2981.5,91.5 2983.2,100.2 2974.3,96.1 2965.3,100.2 2967.1,91.5 2959.8,85.3 2969.8,84.0" fill="#A6761D" stroke="#A6761D" stroke-width="3.6" stroke-linejoin="round"/><polygon points="3012.6,76.0 3017.0,84.0 3027.0,85.3 3019.8,91.5 3021.5,100.2 3012.6,96.1 3003.6,100.2 3005.3,91.5 2998.1,85.3 3008.1,84.0" fill="#A6761D" stroke="#A6761D" stroke-width="3.6" stroke-linejoin="round"/><polygon points="3050.8,76.0 3055.3,84.0 3065.3,85.3 3058.0,91.5 3059.8,100.2 3050.8,96.1 3041.9,100.2 3043.6,91.5 3036.4,85.3 3046.4,84.0" fill="#A6761D" stroke="#A6761D" stroke-width="3.6" stroke-linejoin="round"/><polygon points="3089.1,76.0 3093.6,84.0 3103.5,85.3 3096.3,91.5 3098.0,100.2 3089.1,96.1 3080.2,100.2 3081.9,91.5 3074.6,85.3 3084.6,84.0" fill="#A6761D" stroke="#A6761D" stroke-width="3.6" stroke-linejoin="round"/><polygon points="3127.4,76.0 3131.8,84.0 3141.8,85.3 3134.6,91.5 3136.3,100.2 3127.4,96.1 3118.4,100.2 3120.1,91.5 3112.9,85.3 3122.9,84.0" fill="#A6761D" stroke="#A6761D" stroke-width="3.6" stroke-linejoin="round"/><polygon points="3165.6,76.0 3170.1,84.0 3180.1,85.3 3172.9,91.5 3174.6,100.2 3165.6,96.1 3156.7,100.2 3158.4,91.5 3151.2,85.3 3161.2,84.0" fill="#A6761D" stroke="#A6761D" stroke-width="3.6" stroke-linejoin="round"/><polygon points="3203.9,76.0 3208.4,84.0 3218.4,85.3 3211.1,91.5 3212.8,100.2 3203.9,96.1 3195.0,100.2 3196.7,91.5 3189.4,85.3 3199.4,84.0" fill="#A6761D" stroke="#A6761D" stroke-width="3.6" stroke-linejoin="round"/><polygon points="3242.2,76.0 3246.6,84.0 3256.6,85.3 3249.4,91.5 3251.1,100.2 3242.2,96.1 3233.2,100.2 3234.9,91.5 3227.7,85.3 3237.7,84.0" fill="#A6761D" stroke="#A6761D" stroke-width="3.6" stroke-linejoin="round"/><polygon points="3280.4,76.0 3284.9,84.0 3294.9,85.3 3287.7,91.5 3289.4,100.2 3280.4,96.1 3271.5,100.2 3273.2,91.5 3266.0,85.3 3276.0,84.0" fill="#A6761D" stroke="#A6761D" stroke-width="3.6" stroke-linejoin="round"/><polygon points="3318.7,76.0 3323.2,84.0 3333.2,85.3 3325.9,91.5 3327.6,100.2 3318.7,96.1 3309.8,100.2 3311.5,91.5 3304.3,85.3 3314.2,84.0" fill="#A6761D" stroke="#A6761D" stroke-width="3.6" stroke-linejoin="round"/><polygon points="3357.0,76.0 3361.4,84.0 3371.4,85.3 3364.2,91.5 3365.9,100.2 3357.0,96.1 3348.0,100.2 3349.8,91.5 3342.5,85.3 3352.5,84.0" fill="#A6761D" stroke="#A6761D" stroke-width="3.6" stroke-linejoin="round"/><polygon points="3395.2,76.0 3399.7,84.0 3409.7,85.3 3402.5,91.5 3404.2,100.2 3395.2,96.1 3386.3,100.2 3388.0,91.5 3380.8,85.3 3390.8,84.0" fill="#A6761D" stroke="#A6761D" stroke-width="3.6" stroke-linejoin="round"/><polygon points="3433.5,76.0 3438.0,84.0 3448.0,85.3 3440.7,91.5 3442.5,100.2 3433.5,96.1 3424.6,100.2 3426.3,91.5 3419.1,85.3 3429.1,84.0" fill="#A6761D" stroke="#A6761D" stroke-width="3.6" stroke-linejoin="round"/><polygon points="3471.8,76.0 3476.3,84.0 3486.2,85.3 3479.0,91.5 3480.7,100.2 3471.8,96.1 3462.9,100.2 3464.6,91.5 3457.3,85.3 3467.3,84.0" fill="#A6761D" stroke="#A6761D" stroke-width="3.6" stroke-linejoin="round"/><polygon points="3510.1,146.9 3514.5,154.9 3524.5,156.1 3517.3,162.3 3519.0,171.1 3510.1,167.0 3501.1,171.1 3502.8,162.3 3495.6,156.1 3505.6,154.9" fill="#A6761D" stroke="#A6761D" stroke-width="3.6" stroke-linejoin="round"/><polygon points="3548.3,293.8 3552.8,301.7 3562.8,303.0 3555.6,309.2 3557.3,318.0 3548.3,313.8 3539.4,318.0 3541.1,309.2 3533.9,303.0 3543.9,301.7" fill="#A6761D" stroke="#A6761D" stroke-width="3.6" stroke-linejoin="round"/><polygon points="3586.6,500.2 3591.1,508.1 3601.1,509.4 3593.8,515.6 3595.5,524.4 3586.6,520.2 3577.7,524.4 3579.4,515.6 3572.1,509.4 3582.1,508.1" fill="#A6761D" stroke="#A6761D" stroke-width="3.6" stroke-linejoin="round"/><polygon points="3624.9,675.8 3629.3,683.8 3639.3,685.0 3632.1,691.2 3633.8,700.0 3624.9,695.9 3615.9,700.0 3617.6,691.2 3610.4,685.0 3620.4,683.8" fill="#A6761D" stroke="#A6761D" stroke-width="3.6" stroke-linejoin="round"/><polygon points="3663.1,798.0 3667.6,806.0 3677.6,807.3 3670.4,813.5 3672.1,822.2 3663.1,818.1 3654.2,822.2 3655.9,813.5 3648.7,807.3 3658.7,806.0" fill="#A6761D" stroke="#A6761D" stroke-width="3.6" stroke-linejoin="round"/><polygon points="3701.4,897.6 3705.9,905.6 3715.9,906.9 3708.6,913.1 3710.3,921.8 3701.4,917.7 3692.5,921.8 3694.2,913.1 3687.0,906.9 3696.9,905.6" fill="#A6761D" stroke="#A6761D" stroke-width="3.6" stroke-linejoin="round"/><polygon points="3739.7,966.4 3744.1,974.4 3754.1,975.7 3746.9,981.9 3748.6,990.6 3739.7,986.5 3730.7,990.6 3732.5,981.9 3725.2,975.7 3735.2,974.4" fill="#A6761D" stroke="#A6761D" stroke-width="3.6" stroke-linejoin="round"/><polygon points="3778.0,1015.2 3782.4,1023.2 3792.4,1024.5 3785.2,1030.7 3786.9,1039.4 3778.0,1035.3 3769.0,1039.4 3770.7,1030.7 3763.5,1024.5 3773.5,1023.2" fill="#A6761D" stroke="#A6761D" stroke-width="3.6" stroke-linejoin="round"/><polygon points="3816.2,1044.5 3820.7,1052.5 3830.7,1053.7 3823.4,1059.9 3825.2,1068.7 3816.2,1064.6 3807.3,1068.7 3809.0,1059.9 3801.8,1053.7 3811.8,1052.5" fill="#A6761D" stroke="#A6761D" stroke-width="3.6" stroke-linejoin="round"/><polygon points="3854.5,1077.8 3859.0,1085.7 3868.9,1087.0 3861.7,1093.2 3863.4,1102.0 3854.5,1097.8 3845.6,1102.0 3847.3,1093.2 3840.0,1087.0 3850.0,1085.7" fill="#A6761D" stroke="#A6761D" stroke-width="3.6" stroke-linejoin="round"/><polygon points="3892.8,1091.7 3897.2,1099.7 3907.2,1101.0 3900.0,1107.2 3901.7,1115.9 3892.8,1111.8 3883.8,1115.9 3885.5,1107.2 3878.3,1101.0 3888.3,1099.7" fill="#A6761D" stroke="#A6761D" stroke-width="3.6" stroke-linejoin="round"/><polygon points="3931.0,1105.6 3935.5,1113.6 3945.5,1114.8 3938.3,1121.0 3940.0,1129.8 3931.0,1125.7 3922.1,1129.8 3923.8,1121.0 3916.6,1114.8 3926.6,1113.6" fill="#A6761D" stroke="#A6761D" stroke-width="3.6" stroke-linejoin="round"/><polygon points="3969.3,1105.6 3973.8,1113.6 3983.8,1114.8 3976.5,1121.0 3978.2,1129.8 3969.3,1125.7 3960.4,1129.8 3962.1,1121.0 3954.8,1114.8 3964.8,1113.6" fill="#A6761D" stroke="#A6761D" stroke-width="3.6" stroke-linejoin="round"/>
<rect x="2438.5" y="37.8" width="1530.8" height="1077.2" fill="none" stroke="#000" stroke-width="4"/>
<path d="M2629.8 1115.0v-22.5M2821.2 1115.0v-22.5M3012.6 1115.0v-22.5M3203.9 1115.0v-22.5M3395.2 1115.0v-22.5M3586.6 1115.0v-22.5M3778.0 1115.0v-22.5M2438.5 1012.3h24M2438.5 909.6h24M2438.5 806.9h24M2438.5 704.2h24M2438.5 601.5h24M2438.5 498.8h24M2438.5 396.1h24M2438.5 293.4h24M2438.5 190.7h24M2438.5 88.0h24" stroke="#000" stroke-width="3.6" stroke-linecap="round" fill="none"/>
<text x="2405.1" y="1215.0" font-size="64" textLength="65.7" lengthAdjust="spacing">10</text>
<text x="2597.8" y="1215.0" font-size="64" textLength="65.8" lengthAdjust="spacing">20</text>
<text x="2789.0" y="1215.0" font-size="64" textLength="65.8" lengthAdjust="spacing">30</text>
<text x="2981.2" y="1215.0" font-size="64" textLength="65.8" lengthAdjust="spacing">40</text>
<text x="3171.4" y="1215.0" font-size="64" textLength="65.7" lengthAdjust="spacing">50</text>
<text x="3363.2" y="1215.0" font-size="64" textLength="65.8" lengthAdjust="spacing">60</text>
<text x="3553.8" y="1215.0" font-size="64" textLength="65.7" lengthAdjust="spacing">70</text>
<text x="3746.1" y="1215.0" font-size="64" textLength="65.8" lengthAdjust="spacing">80</text>
<text x="3937.6" y="1215.0" font-size="64" textLength="65.8" lengthAdjust="spacing">90</text>
<text x="2272.5" y="107.4" font-size="64" textLength="118.8" lengthAdjust="spacing">10.0</text>
<text x="2306.3" y="211.7" font-size="64" textLength="84.9" lengthAdjust="spacing">9.0</text>
<text x="2306.4" y="314.2" font-size="64" textLength="84.9" lengthAdjust="spacing">8.0</text>
<text x="2306.5" y="416.6" font-size="64" textLength="84.8" lengthAdjust="spacing">7.0</text>
<text x="2306.4" y="520.4" font-size="64" textLength="84.9" lengthAdjust="spacing">6.0</text>
<text x="2306.4" y="621.1" font-size="64" textLength="84.8" lengthAdjust="spacing">5.0</text>
<text x="2306.3" y="722.7" font-size="64" textLength="85.0" lengthAdjust="spacing">4.0</text>
<text x="2306.4" y="832.8" font-size="64" textLength="84.8" lengthAdjust="spacing">3.0</text>
<text x="2306.4" y="933.0" font-size="64" textLength="84.9" lengthAdjust="spacing">2.0</text>
<text x="2306.6" y="1041.0" font-size="64" textLength="84.7" lengthAdjust="spacing">1.0</text>
<text x="2357.3" y="1152.0" font-size="64" textLength="34.1" lengthAdjust="spacingAndGlyphs">0</text>
<text x="2883.7" y="1331.0" font-size="66" textLength="196.0" lengthAdjust="spacing">阵列中</text><text x="3085.1" y="1331.0" font-size="70.5" textLength="45.1" lengthAdjust="spacingAndGlyphs">P</text><text x="3131.3" y="1331.0" font-size="70.5" textLength="49.7" lengthAdjust="spacingAndGlyphs">D</text><text x="3181.1" y="1331.0" font-size="66" textLength="199.0" lengthAdjust="spacing">的倾角</text><text x="3379.9" y="1331.0" font-size="68" class="it">α</text><text x="3447.6" y="1331.0" font-size="73">(</text><text x="3470.2" y="1331.0" font-size="69">°</text><text x="3502.6" y="1331.0" font-size="73">)</text>
<text x="2797.0" y="1440.0" font-size="73">(</text><text x="2823.5" y="1440.0" font-size="66">b</text><text x="2863.2" y="1440.0" font-size="73">)</text><text x="2907.0" y="1440.0" font-size="66" textLength="266.9" lengthAdjust="spacing">不同倾角</text><text x="3172.0" y="1440.0" font-size="68" class="it">α</text><text x="3217.3" y="1440.0" font-size="66">下的有效点数</text>
<g transform="translate(2196.5 816.0) rotate(-90)"><text x="-1.2" y="0.0" font-size="66">有效点数</text><text x="290.8" y="0.0" font-size="73">(</text><text x="319.5" y="8.5" font-size="76">×</text><text x="367.8" y="0.0" font-size="66">10</text><text x="434.5" y="-23.0" font-size="39">2</text><text x="454.7" y="0.0" font-size="73">)</text></g>
<line x1="2474.5" y1="535.7" x2="2596" y2="535.7" stroke="#1B9E77" stroke-width="3.5" stroke-linecap="round"/>
<polygon points="2522.8,525.1 2546.8,525.1 2546.8,546.3 2522.8,546.3" fill="#1B9E77" stroke="#1B9E77" stroke-width="2.5" stroke-linejoin="round"/>
<text x="2610.0" y="555.5" font-size="66.5">3</text>
<text x="2643.0" y="555.5" font-size="70.5" textLength="44.7" lengthAdjust="spacingAndGlyphs">P</text><text x="2688.8" y="555.5" font-size="70.5" textLength="49.2" lengthAdjust="spacingAndGlyphs">D</text>
<text x="2738.9" y="555.5" font-size="66">阵列</text>
<text x="2869.5" y="549.9" font-size="40" textLength="22.6" lengthAdjust="spacingAndGlyphs">-</text>
<text x="2894.2" y="555.5" font-size="66" textLength="34.1" lengthAdjust="spacingAndGlyphs">0</text>
<text x="2950.8" y="555.5" font-size="66" textLength="53.0" lengthAdjust="spacingAndGlyphs">m</text>
<line x1="2474.5" y1="619.2" x2="2596" y2="619.2" stroke="#D95F02" stroke-width="3.5" stroke-linecap="round"/>
<ellipse cx="2534.8" cy="619.2" rx="13.8" ry="12.1" fill="#D95F02" stroke="#D95F02" stroke-width="2.5"/>
<text x="2610.0" y="639.0" font-size="66.5">3</text>
<text x="2643.0" y="639.0" font-size="70.5" textLength="44.7" lengthAdjust="spacingAndGlyphs">P</text><text x="2688.8" y="639.0" font-size="70.5" textLength="49.2" lengthAdjust="spacingAndGlyphs">D</text>
<text x="2738.9" y="639.0" font-size="66">阵列</text>
<text x="2869.5" y="633.4" font-size="40" textLength="22.6" lengthAdjust="spacingAndGlyphs">-</text>
<text x="2894.3" y="639.0" font-size="66" textLength="84.1" lengthAdjust="spacing">0.4</text>
<text x="3001.2" y="639.0" font-size="66" textLength="54.4" lengthAdjust="spacingAndGlyphs">m</text>
<line x1="2474.5" y1="702.7" x2="2596" y2="702.7" stroke="#7570B3" stroke-width="3.5" stroke-linecap="round"/>
<polygon points="2534.8,686.8 2519.2,710.6 2550.4,710.6" fill="#7570B3" stroke="#7570B3" stroke-width="2.5" stroke-linejoin="round"/>
<text x="2610.0" y="722.5" font-size="66.5">3</text>
<text x="2643.0" y="722.5" font-size="70.5" textLength="44.7" lengthAdjust="spacingAndGlyphs">P</text><text x="2688.8" y="722.5" font-size="70.5" textLength="49.2" lengthAdjust="spacingAndGlyphs">D</text>
<text x="2738.9" y="722.5" font-size="66">阵列</text>
<text x="2869.5" y="716.9" font-size="40" textLength="22.6" lengthAdjust="spacingAndGlyphs">-</text>
<text x="2894.3" y="722.5" font-size="66" textLength="85.6" lengthAdjust="spacing">0.8</text>
<text x="3001.2" y="722.5" font-size="66" textLength="54.4" lengthAdjust="spacingAndGlyphs">m</text>
<line x1="2474.5" y1="786.2" x2="2596" y2="786.2" stroke="#E7298A" stroke-width="3.5" stroke-linecap="round"/>
<polygon points="2534.8,802.1 2519.2,778.3 2550.4,778.3" fill="#E7298A" stroke="#E7298A" stroke-width="2.5" stroke-linejoin="round"/>
<text x="2610.0" y="806.0" font-size="66.5">3</text>
<text x="2643.0" y="806.0" font-size="70.5" textLength="44.7" lengthAdjust="spacingAndGlyphs">P</text><text x="2688.8" y="806.0" font-size="70.5" textLength="49.2" lengthAdjust="spacingAndGlyphs">D</text>
<text x="2738.9" y="806.0" font-size="66">阵列</text>
<text x="2869.5" y="800.4" font-size="40" textLength="22.6" lengthAdjust="spacingAndGlyphs">-</text>
<text x="2891.0" y="806.0" font-size="66" textLength="90.0" lengthAdjust="spacing">1.2</text>
<text x="3001.2" y="806.0" font-size="66" textLength="54.4" lengthAdjust="spacingAndGlyphs">m</text>
<line x1="2474.5" y1="869.7" x2="2596" y2="869.7" stroke="#66A61E" stroke-width="3.5" stroke-linecap="round"/>
<polygon points="2534.8,854.9 2551.6,869.7 2534.8,884.5 2518.0,869.7" fill="#66A61E" stroke="#66A61E" stroke-width="2.5" stroke-linejoin="round"/>
<text x="2610.0" y="889.5" font-size="66.5">4</text>
<text x="2643.0" y="889.5" font-size="70.5" textLength="44.7" lengthAdjust="spacingAndGlyphs">P</text><text x="2688.8" y="889.5" font-size="70.5" textLength="49.2" lengthAdjust="spacingAndGlyphs">D</text>
<text x="2738.9" y="889.5" font-size="66">阵列</text>
<text x="2869.5" y="883.9" font-size="40" textLength="22.6" lengthAdjust="spacingAndGlyphs">-</text>
<text x="2891.0" y="889.5" font-size="66" textLength="90.0" lengthAdjust="spacing">1.2</text>
<text x="3001.2" y="889.5" font-size="66" textLength="54.4" lengthAdjust="spacingAndGlyphs">m</text>
<line x1="2474.5" y1="953.2" x2="2596" y2="953.2" stroke="#E6AB02" stroke-width="3.5" stroke-linecap="round"/>
<polygon points="2534.8,939.7 2548.1,946.5 2548.1,959.9 2534.8,966.7 2521.5,959.9 2521.5,946.5" fill="#E6AB02" stroke="#E6AB02" stroke-width="2.5" stroke-linejoin="round"/>
<text x="2610.0" y="973.0" font-size="66.5">5</text>
<text x="2643.0" y="973.0" font-size="70.5" textLength="44.7" lengthAdjust="spacingAndGlyphs">P</text><text x="2688.8" y="973.0" font-size="70.5" textLength="49.2" lengthAdjust="spacingAndGlyphs">D</text>
<text x="2738.9" y="973.0" font-size="66">阵列</text>
<text x="2869.5" y="967.4" font-size="40" textLength="22.6" lengthAdjust="spacingAndGlyphs">-</text>
<text x="2891.0" y="973.0" font-size="66" textLength="90.0" lengthAdjust="spacing">1.2</text>
<text x="3001.2" y="973.0" font-size="66" textLength="54.4" lengthAdjust="spacingAndGlyphs">m</text>
<line x1="2474.5" y1="1036.7" x2="2596" y2="1036.7" stroke="#A6761D" stroke-width="3.5" stroke-linecap="round"/>
<polygon points="2534.8,1024.7 2539.3,1032.7 2549.3,1034.0 2542.0,1040.2 2543.7,1048.9 2534.8,1044.8 2525.9,1048.9 2527.6,1040.2 2520.3,1034.0 2530.3,1032.7" fill="#A6761D" stroke="#A6761D" stroke-width="3.6" stroke-linejoin="round"/>
<text x="2610.0" y="1056.5" font-size="66.5">6</text>
<text x="2643.0" y="1056.5" font-size="70.5" textLength="44.7" lengthAdjust="spacingAndGlyphs">P</text><text x="2688.8" y="1056.5" font-size="70.5" textLength="49.2" lengthAdjust="spacingAndGlyphs">D</text>
<text x="2738.9" y="1056.5" font-size="66">阵列</text>
<text x="2869.5" y="1050.9" font-size="40" textLength="22.6" lengthAdjust="spacingAndGlyphs">-</text>
<text x="2891.0" y="1056.5" font-size="66" textLength="90.0" lengthAdjust="spacing">1.2</text>
<text x="3001.2" y="1056.5" font-size="66" textLength="54.4" lengthAdjust="spacingAndGlyphs">m</text>
</g>
</svg></body></html>
